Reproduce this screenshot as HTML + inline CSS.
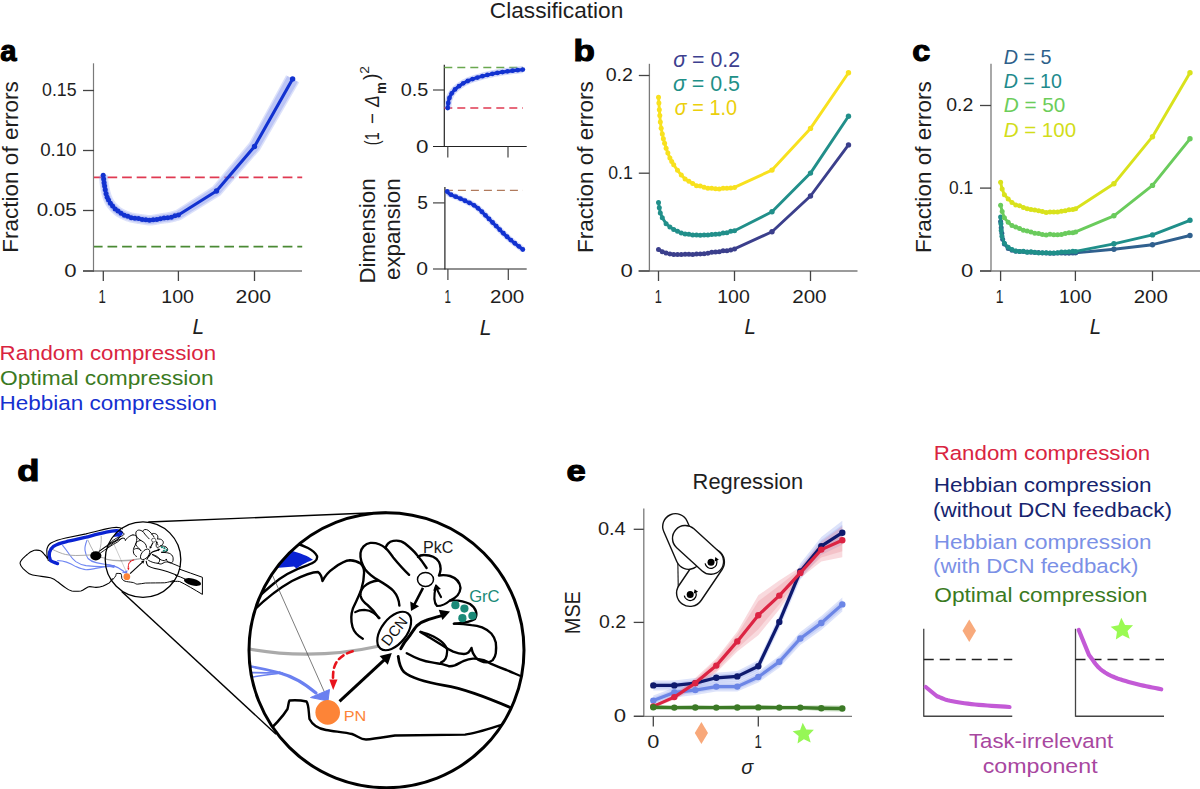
<!DOCTYPE html>
<html><head><meta charset="utf-8"><style>
html,body{margin:0;padding:0;background:#fff;overflow:hidden;width:1200px;height:789px;}
svg{display:block;font-family:"Liberation Sans",sans-serif;}
</style></head><body>
<svg width="1200" height="789" viewBox="0 0 1200 789">
<rect width="1200" height="789" fill="#fff"/>
<text x="489.85" y="18.1" font-size="21.5" fill="#1e1e1e" textLength="133.42" lengthAdjust="spacingAndGlyphs">Classification</text>
<text x="0.24" y="60.7" font-size="29" fill="#000" font-weight="bold" textLength="16.27" lengthAdjust="spacingAndGlyphs" stroke="#000" stroke-width="1.1">a</text>
<text x="573.4" y="60.9" font-size="29" fill="#000" font-weight="bold" textLength="21.33" lengthAdjust="spacingAndGlyphs" stroke="#000" stroke-width="1.1">b</text>
<text x="912.23" y="60.8" font-size="29" fill="#000" font-weight="bold" textLength="18.01" lengthAdjust="spacingAndGlyphs" stroke="#000" stroke-width="1.1">c</text>
<text x="17.21" y="481.3" font-size="29" fill="#000" font-weight="bold" textLength="22.18" lengthAdjust="spacingAndGlyphs" stroke="#000" stroke-width="1.1">d</text>
<text x="566.45" y="481.4" font-size="29" fill="#000" font-weight="bold" textLength="19.23" lengthAdjust="spacingAndGlyphs" stroke="#000" stroke-width="1.1">e</text>
<line x1="93.5" y1="63.3" x2="93.5" y2="271.5" stroke="#7a7a7a" stroke-width="1.2" stroke-linecap="butt"/>
<line x1="83" y1="271" x2="302" y2="271" stroke="#7a7a7a" stroke-width="1.3" stroke-linecap="butt"/>
<line x1="83" y1="90.5" x2="94" y2="90.5" stroke="#444444" stroke-width="1.3" stroke-linecap="butt"/>
<text x="42.06" y="96.4" font-size="19" fill="#1e1e1e" textLength="34.49" lengthAdjust="spacingAndGlyphs">0.15</text>
<line x1="83" y1="150.5" x2="94" y2="150.5" stroke="#444444" stroke-width="1.3" stroke-linecap="butt"/>
<text x="40.17" y="156.4" font-size="19" fill="#1e1e1e" textLength="36.36" lengthAdjust="spacingAndGlyphs">0.10</text>
<line x1="83" y1="210.5" x2="94" y2="210.5" stroke="#444444" stroke-width="1.3" stroke-linecap="butt"/>
<text x="36.7" y="216.4" font-size="19" fill="#1e1e1e" textLength="39.96" lengthAdjust="spacingAndGlyphs">0.05</text>
<line x1="83" y1="271" x2="94" y2="271" stroke="#444444" stroke-width="1.3" stroke-linecap="butt"/>
<text x="64.33" y="276.9" font-size="19" fill="#1e1e1e" textLength="12.33" lengthAdjust="spacingAndGlyphs">0</text>
<line x1="103.3" y1="271" x2="103.3" y2="281" stroke="#444444" stroke-width="1.3" stroke-linecap="butt"/>
<text x="98.49" y="303" font-size="19" fill="#1e1e1e" textLength="7.35" lengthAdjust="spacingAndGlyphs">1</text>
<line x1="178.4" y1="271" x2="178.4" y2="281" stroke="#444444" stroke-width="1.3" stroke-linecap="butt"/>
<text x="161.31" y="303" font-size="19" fill="#1e1e1e" textLength="32.66" lengthAdjust="spacingAndGlyphs">100</text>
<line x1="254.5" y1="271" x2="254.5" y2="281" stroke="#444444" stroke-width="1.3" stroke-linecap="butt"/>
<text x="235.63" y="303" font-size="19" fill="#1e1e1e" textLength="35.4" lengthAdjust="spacingAndGlyphs">200</text>
<text x="192.56" y="334" font-size="21.3" fill="#1e1e1e" font-style="italic" textLength="11.6" lengthAdjust="spacingAndGlyphs">L</text>
<text x="-1.85" y="0" transform="translate(18 251) rotate(-90)" font-size="22.5" fill="#1e1e1e" textLength="171.66" lengthAdjust="spacingAndGlyphs">Fraction of errors</text>
<line x1="94" y1="177.3" x2="302.2" y2="177.3" stroke="#e03a52" stroke-width="1.7" stroke-linecap="butt" stroke-dasharray="9.7,4.9" stroke-dashoffset="1.1"/>
<line x1="94" y1="246.7" x2="302.2" y2="246.7" stroke="#4a8a34" stroke-width="1.7" stroke-linecap="butt" stroke-dasharray="9.7,4.9" stroke-dashoffset="1.1"/>
<polygon points="98.73,175.74 98.81,176.42 98.88,177.09 98.96,177.78 99.03,178.46 99.1,179.15 99.18,179.85 99.25,180.54 99.33,181.23 99.41,181.92 99.49,182.61 99.58,183.29 99.66,183.95 99.75,184.59 99.83,185.22 99.92,185.84 100.01,186.46 100.09,187.07 100.19,187.69 100.28,188.31 100.38,188.92 100.49,189.54 100.6,190.15 100.72,190.78 100.84,191.39 100.97,191.99 101.1,192.59 101.23,193.19 101.37,193.8 101.51,194.4 101.66,195.01 101.82,195.61 101.99,196.22 102.16,196.82 102.34,197.42 102.53,198.02 102.73,198.6 102.92,199.15 103.11,199.68 103.31,200.21 103.51,200.75 103.73,201.29 103.96,201.83 104.21,202.38 104.47,202.93 104.75,203.49 105.05,204.05 105.37,204.62 105.71,205.18 106.06,205.73 106.42,206.28 106.8,206.83 107.19,207.38 107.6,207.94 108.02,208.49 108.45,209.04 108.91,209.58 109.37,210.12 109.85,210.66 110.35,211.19 110.84,211.69 111.31,212.16 111.77,212.62 112.25,213.08 112.75,213.55 113.29,214.03 113.85,214.51 114.44,215 115.07,215.48 115.73,215.96 116.43,216.43 117.18,216.9 117.95,217.36 118.72,217.79 119.52,218.22 120.35,218.65 121.22,219.08 122.12,219.51 123.05,219.93 124.01,220.35 125,220.75 126.02,221.14 127.06,221.51 128.13,221.86 129.23,222.2 130.39,222.51 131.6,222.8 132.83,223.06 134.08,223.31 135.34,223.53 136.59,223.74 137.81,223.94 139,224.12 140.14,224.29 141.21,224.44 142.19,224.59 143.07,224.72 143.84,224.83 144.54,224.95 145.19,225.05 145.81,225.15 146.42,225.24 147.04,225.32 147.68,225.39 148.35,225.44 149.04,225.47 149.76,225.48 150.51,225.47 151.33,225.44 152.23,225.38 153.16,225.28 154.08,225.16 155.01,225.03 155.92,224.88 156.83,224.72 157.73,224.57 158.61,224.41 159.47,224.25 160.29,224.11 161.07,223.98 161.81,223.87 162.54,223.77 163.27,223.68 164.01,223.59 164.76,223.5 165.52,223.41 166.28,223.33 167.05,223.23 167.84,223.13 168.64,223.02 169.44,222.9 170.27,222.76 171.1,222.6 171.92,222.43 172.73,222.25 173.51,222.06 174.28,221.86 175.03,221.66 175.76,221.45 176.48,221.25 177.18,221.05 177.87,220.85 178.54,220.66 179.2,220.48 181.31,219.67 220.51,195.46 259.88,150.15 299.13,82.58 286.07,75.22 249.12,142.85 212.49,186.54 175.49,210.33 176.2,209.91 175.48,210.13 174.76,210.34 174.07,210.56 173.38,210.77 172.71,210.97 172.06,211.17 171.41,211.36 170.77,211.53 170.14,211.7 169.52,211.85 168.9,212 168.28,212.12 167.65,212.24 167,212.36 166.32,212.46 165.63,212.56 164.92,212.66 164.19,212.76 163.43,212.86 162.65,212.97 161.86,213.08 161.04,213.2 160.19,213.33 159.31,213.48 158.43,213.64 157.54,213.81 156.66,213.98 155.79,214.15 154.94,214.31 154.11,214.47 153.32,214.61 152.57,214.73 151.87,214.83 151.25,214.91 150.67,214.96 150.13,214.99 149.65,215.01 149.24,215.02 148.88,215.01 148.53,214.99 148.16,214.97 147.75,214.92 147.27,214.87 146.72,214.79 146.09,214.7 145.36,214.6 144.53,214.48 143.61,214.36 142.62,214.23 141.56,214.1 140.47,213.95 139.34,213.79 138.19,213.62 137.04,213.44 135.92,213.25 134.83,213.05 133.79,212.84 132.84,212.63 131.97,212.4 131.13,212.16 130.3,211.9 129.47,211.62 128.65,211.32 127.85,211.01 127.06,210.68 126.3,210.35 125.55,210.01 124.83,209.66 124.14,209.32 123.47,208.97 122.85,208.64 122.31,208.34 121.82,208.04 121.37,207.75 120.94,207.45 120.53,207.16 120.14,206.85 119.76,206.53 119.37,206.2 118.98,205.86 118.58,205.49 118.17,205.1 117.76,204.71 117.38,204.33 117.02,203.97 116.66,203.59 116.32,203.2 115.98,202.81 115.64,202.41 115.32,202.01 115.01,201.61 114.71,201.2 114.42,200.8 114.14,200.4 113.89,200.02 113.65,199.66 113.44,199.3 113.24,198.96 113.06,198.61 112.88,198.26 112.7,197.9 112.53,197.52 112.36,197.14 112.19,196.73 112.02,196.3 111.85,195.86 111.67,195.4 111.51,194.96 111.35,194.51 111.2,194.05 111.05,193.57 110.91,193.08 110.76,192.58 110.62,192.07 110.48,191.55 110.35,191.02 110.22,190.49 110.09,189.95 109.96,189.41 109.84,188.88 109.73,188.36 109.62,187.83 109.52,187.29 109.41,186.75 109.31,186.2 109.22,185.63 109.12,185.06 109.03,184.48 108.93,183.88 108.83,183.27 108.74,182.65 108.64,182.03 108.55,181.41 108.46,180.77 108.37,180.12 108.28,179.45 108.2,178.78 108.11,178.1 108.02,177.41 107.94,176.72 107.85,176.03 107.76,175.34 107.67,174.66" fill="#8c9ced" fill-opacity="0.3" stroke="none"/>
<polygon points="100.22,175.56 100.3,176.24 100.37,176.92 100.45,177.6 100.52,178.29 100.59,178.98 100.67,179.67 100.74,180.36 100.82,181.05 100.9,181.73 100.98,182.41 101.06,183.08 101.15,183.74 101.23,184.37 101.32,185 101.4,185.62 101.49,186.23 101.58,186.84 101.67,187.45 101.76,188.05 101.86,188.66 101.96,189.26 102.07,189.87 102.18,190.47 102.31,191.07 102.43,191.67 102.56,192.26 102.69,192.85 102.82,193.44 102.97,194.03 103.11,194.62 103.27,195.21 103.43,195.8 103.59,196.38 103.77,196.96 103.95,197.53 104.14,198.09 104.33,198.63 104.51,199.15 104.7,199.66 104.9,200.18 105.11,200.7 105.33,201.21 105.56,201.73 105.81,202.26 106.08,202.78 106.36,203.31 106.66,203.85 106.98,204.38 107.31,204.91 107.66,205.43 108.02,205.96 108.4,206.49 108.79,207.02 109.19,207.55 109.61,208.08 110.04,208.6 110.49,209.12 110.95,209.64 111.42,210.14 111.9,210.63 112.35,211.08 112.81,211.53 113.27,211.98 113.76,212.44 114.27,212.89 114.8,213.35 115.36,213.81 115.95,214.27 116.58,214.72 117.24,215.17 117.95,215.62 118.68,216.05 119.43,216.47 120.21,216.89 121.02,217.31 121.87,217.73 122.74,218.14 123.65,218.56 124.58,218.96 125.54,219.35 126.53,219.73 127.54,220.09 128.57,220.43 129.64,220.75 130.75,221.05 131.92,221.33 133.13,221.59 134.35,221.83 135.59,222.05 136.82,222.26 138.03,222.46 139.21,222.64 140.35,222.8 141.41,222.96 142.4,223.1 143.28,223.23 144.06,223.35 144.77,223.46 145.41,223.57 146.02,223.66 146.61,223.75 147.2,223.83 147.81,223.9 148.43,223.94 149.07,223.97 149.75,223.98 150.46,223.97 151.24,223.94 152.09,223.88 152.98,223.79 153.87,223.68 154.77,223.55 155.67,223.4 156.57,223.25 157.46,223.09 158.34,222.93 159.2,222.78 160.03,222.64 160.82,222.5 161.58,222.39 162.33,222.29 163.07,222.19 163.82,222.1 164.58,222.01 165.33,221.93 166.09,221.84 166.86,221.75 167.63,221.65 168.41,221.54 169.2,221.42 169.99,221.29 170.79,221.14 171.59,220.97 172.37,220.79 173.13,220.61 173.88,220.41 174.62,220.21 175.34,220.01 176.05,219.81 176.75,219.61 177.44,219.41 178.12,219.22 178.79,219.04 180.52,218.39 219.51,194.34 258.64,149.31 297.83,81.85 287.37,75.95 250.36,143.69 213.49,187.66 176.28,211.61 176.61,211.35 175.89,211.57 175.19,211.78 174.49,212 173.81,212.21 173.13,212.41 172.46,212.61 171.8,212.8 171.15,212.98 170.5,213.16 169.85,213.32 169.21,213.46 168.56,213.6 167.9,213.72 167.22,213.84 166.53,213.95 165.83,214.05 165.11,214.15 164.37,214.25 163.62,214.35 162.84,214.45 162.05,214.56 161.25,214.68 160.42,214.81 159.56,214.96 158.69,215.11 157.81,215.28 156.94,215.45 156.07,215.62 155.21,215.79 154.37,215.95 153.56,216.09 152.79,216.22 152.06,216.32 151.39,216.4 150.76,216.46 150.19,216.49 149.67,216.51 149.22,216.52 148.8,216.51 148.41,216.49 148,216.46 147.56,216.41 147.06,216.35 146.5,216.27 145.86,216.18 145.14,216.08 144.32,215.97 143.4,215.85 142.41,215.72 141.36,215.58 140.25,215.43 139.11,215.27 137.95,215.1 136.79,214.92 135.65,214.73 134.53,214.52 133.47,214.31 132.48,214.08 131.56,213.85 130.69,213.6 129.82,213.32 128.96,213.03 128.11,212.72 127.28,212.39 126.47,212.06 125.67,211.71 124.9,211.36 124.16,211.01 123.45,210.65 122.76,210.29 122.12,209.95 121.54,209.62 121.01,209.3 120.52,208.99 120.05,208.67 119.61,208.34 119.19,208.01 118.78,207.67 118.37,207.32 117.96,206.95 117.55,206.57 117.13,206.17 116.7,205.77 116.3,205.38 115.92,204.99 115.55,204.59 115.18,204.18 114.82,203.77 114.47,203.35 114.13,202.92 113.8,202.5 113.49,202.07 113.18,201.65 112.89,201.23 112.62,200.82 112.37,200.43 112.14,200.04 111.92,199.66 111.72,199.28 111.52,198.9 111.33,198.51 111.15,198.11 110.97,197.7 110.79,197.28 110.62,196.84 110.44,196.38 110.26,195.91 110.09,195.44 109.93,194.97 109.77,194.49 109.61,193.99 109.46,193.48 109.31,192.97 109.17,192.44 109.03,191.91 108.89,191.37 108.76,190.83 108.62,190.28 108.49,189.73 108.37,189.19 108.26,188.65 108.15,188.11 108.04,187.56 107.93,187 107.83,186.44 107.74,185.87 107.64,185.29 107.54,184.7 107.45,184.1 107.35,183.48 107.25,182.86 107.16,182.24 107.06,181.61 106.97,180.96 106.88,180.3 106.8,179.63 106.71,178.95 106.62,178.27 106.53,177.58 106.45,176.9 106.36,176.21 106.27,175.52 106.18,174.84" fill="#8c9ced" fill-opacity="0.4" stroke="none"/>
<polyline points="103.2,175.2 103.63,178.9 104.09,182.67 104.62,185.98 105.27,189.78 106.1,193.67 107.16,197.2 108.53,200 110.38,203.24 112.62,206.04 115.17,209 117.97,211.06 121.09,213.34 124.39,215.13 127.8,216.22 131.31,217.63 134.91,218.33 138.54,218.48 142.19,219.42 145.83,219.71 149.49,220.18 153.16,219.8 156.79,219.51 160.41,218.65 164.05,217.91 167.7,217.74 171.32,217.23 174.87,215.87 178.4,215 216.5,191 254.5,146.5 292.6,78.9" fill="none" stroke="#1232d0" stroke-width="3.1" stroke-linejoin="round" stroke-linecap="round"/>
<circle cx="103.2" cy="175.2" r="2.5" fill="#1232d0"/>
<circle cx="103.63" cy="178.9" r="2.5" fill="#1232d0"/>
<circle cx="104.09" cy="182.67" r="2.5" fill="#1232d0"/>
<circle cx="104.62" cy="185.98" r="2.5" fill="#1232d0"/>
<circle cx="105.27" cy="189.78" r="2.5" fill="#1232d0"/>
<circle cx="106.1" cy="193.67" r="2.5" fill="#1232d0"/>
<circle cx="107.16" cy="197.2" r="2.5" fill="#1232d0"/>
<circle cx="108.53" cy="200" r="2.5" fill="#1232d0"/>
<circle cx="110.38" cy="203.24" r="2.5" fill="#1232d0"/>
<circle cx="112.62" cy="206.04" r="2.5" fill="#1232d0"/>
<circle cx="115.17" cy="209" r="2.5" fill="#1232d0"/>
<circle cx="117.97" cy="211.06" r="2.5" fill="#1232d0"/>
<circle cx="121.09" cy="213.34" r="2.5" fill="#1232d0"/>
<circle cx="124.39" cy="215.13" r="2.5" fill="#1232d0"/>
<circle cx="127.8" cy="216.22" r="2.5" fill="#1232d0"/>
<circle cx="131.31" cy="217.63" r="2.5" fill="#1232d0"/>
<circle cx="134.91" cy="218.33" r="2.5" fill="#1232d0"/>
<circle cx="138.54" cy="218.48" r="2.5" fill="#1232d0"/>
<circle cx="142.19" cy="219.42" r="2.5" fill="#1232d0"/>
<circle cx="145.83" cy="219.71" r="2.5" fill="#1232d0"/>
<circle cx="149.49" cy="220.18" r="2.5" fill="#1232d0"/>
<circle cx="153.16" cy="219.8" r="2.5" fill="#1232d0"/>
<circle cx="156.79" cy="219.51" r="2.5" fill="#1232d0"/>
<circle cx="160.41" cy="218.65" r="2.5" fill="#1232d0"/>
<circle cx="164.05" cy="217.91" r="2.5" fill="#1232d0"/>
<circle cx="167.7" cy="217.74" r="2.5" fill="#1232d0"/>
<circle cx="171.32" cy="217.23" r="2.5" fill="#1232d0"/>
<circle cx="174.87" cy="215.87" r="2.5" fill="#1232d0"/>
<circle cx="178.4" cy="215" r="2.5" fill="#1232d0"/>
<circle cx="216.5" cy="191" r="2.7" fill="#1232d0"/>
<circle cx="254.5" cy="146.5" r="2.7" fill="#1232d0"/>
<circle cx="292.6" cy="78.9" r="2.7" fill="#1232d0"/>
<line x1="444.3" y1="64.8" x2="444.3" y2="147" stroke="#222" stroke-width="1.2" stroke-linecap="butt"/>
<line x1="433" y1="146.5" x2="526.7" y2="146.5" stroke="#222" stroke-width="1.2" stroke-linecap="butt"/>
<line x1="433" y1="90" x2="444.3" y2="90" stroke="#444444" stroke-width="1.2" stroke-linecap="butt"/>
<line x1="447.8" y1="146.5" x2="447.8" y2="157.5" stroke="#444444" stroke-width="1.2" stroke-linecap="butt"/>
<line x1="508" y1="146.5" x2="508" y2="157.5" stroke="#444444" stroke-width="1.2" stroke-linecap="butt"/>
<text x="400.82" y="95.6" font-size="18" fill="#1e1e1e" textLength="27.61" lengthAdjust="spacingAndGlyphs">0.5</text>
<text x="416.03" y="152.6" font-size="18" fill="#1e1e1e" textLength="12.45" lengthAdjust="spacingAndGlyphs">0</text>
<line x1="444.3" y1="67.5" x2="523" y2="67.5" stroke="#6aa84f" stroke-width="1.3" stroke-linecap="butt" stroke-dasharray="8,5"/>
<line x1="444.3" y1="108" x2="523" y2="108" stroke="#e03a52" stroke-width="1.3" stroke-linecap="butt" stroke-dasharray="8,5"/>
<polygon points="451.18,108.41 451.28,107.51 451.38,106.58 451.48,105.67 451.57,104.79 451.66,103.94 451.77,103.15 451.88,102.42 452.02,101.74 452.18,101.07 452.34,100.43 452.52,99.82 452.7,99.25 452.9,98.7 453.11,98.17 453.35,97.64 453.61,97.1 453.91,96.55 454.22,96.01 454.56,95.47 454.92,94.93 455.31,94.4 455.71,93.88 456.14,93.36 456.58,92.86 457.04,92.38 457.52,91.91 458.02,91.44 458.55,90.98 459.12,90.51 459.72,90.03 460.36,89.54 461.06,89.03 461.81,88.49 462.55,87.95 463.3,87.42 464.07,86.91 464.86,86.41 465.69,85.91 466.56,85.43 467.52,84.95 468.56,84.47 469.65,83.99 470.79,83.52 471.98,83.05 473.25,82.58 474.6,82.11 476.05,81.63 477.61,81.15 479.3,80.66 481.16,80.14 483.12,79.62 485.17,79.1 487.24,78.59 489.32,78.11 491.36,77.65 493.31,77.23 495.2,76.85 497.07,76.49 498.92,76.17 500.76,75.86 502.61,75.57 504.45,75.3 506.31,75.03 508.17,74.77 510.03,74.52 511.89,74.29 513.75,74.08 515.62,73.88 517.5,73.68 519.39,73.49 521.29,73.29 523.18,73.08 522.42,66.12 520.54,66.33 518.66,66.53 516.77,66.72 514.88,66.92 512.98,67.13 511.06,67.34 509.14,67.58 507.23,67.83 505.33,68.1 503.44,68.37 501.55,68.65 499.65,68.95 497.74,69.27 495.81,69.61 493.86,69.98 491.89,70.37 489.85,70.81 487.75,71.28 485.61,71.79 483.47,72.31 481.36,72.85 479.33,73.39 477.39,73.92 475.59,74.45 473.93,74.96 472.37,75.47 470.89,75.99 469.49,76.5 468.16,77.03 466.89,77.55 465.67,78.09 464.48,78.65 463.31,79.23 462.21,79.83 461.19,80.44 460.23,81.05 459.34,81.65 458.5,82.24 457.7,82.82 456.94,83.37 456.17,83.93 455.43,84.5 454.71,85.07 454.01,85.65 453.34,86.24 452.68,86.85 452.04,87.48 451.42,88.14 450.82,88.81 450.25,89.5 449.71,90.2 449.19,90.92 448.7,91.65 448.23,92.39 447.8,93.14 447.39,93.9 447.01,94.67 446.67,95.44 446.35,96.22 446.07,97 445.82,97.79 445.59,98.59 445.38,99.4 445.18,100.26 444.99,101.18 444.84,102.14 444.72,103.09 444.61,104.03 444.51,104.95 444.42,105.85 444.33,106.72 444.22,107.59" fill="#8c9ced" fill-opacity="0.4" stroke="none"/>
<polyline points="447.7,108 447.81,107.11 447.9,106.21 447.99,105.31 448.09,104.41 448.19,103.52 448.3,102.64 448.44,101.8 448.6,101 448.78,100.24 448.97,99.51 449.17,98.81 449.39,98.12 449.63,97.46 449.89,96.8 450.18,96.15 450.5,95.5 450.85,94.85 451.23,94.2 451.63,93.56 452.06,92.92 452.51,92.3 452.98,91.69 453.48,91.09 454,90.5 454.54,89.93 455.1,89.38 455.68,88.84 456.28,88.31 456.91,87.79 457.57,87.27 458.27,86.74 459,86.2 459.75,85.65 460.52,85.1 461.32,84.54 462.15,83.98 463.02,83.43 463.95,82.87 464.94,82.33 466,81.8 467.12,81.28 468.27,80.77 469.47,80.27 470.74,79.77 472.07,79.28 473.49,78.79 474.99,78.3 476.6,77.8 478.35,77.29 480.24,76.76 482.24,76.23 484.32,75.71 486.43,75.19 488.54,74.69 490.61,74.23 492.6,73.8 494.53,73.41 496.44,73.05 498.33,72.72 500.21,72.41 502.08,72.11 503.95,71.83 505.82,71.56 507.7,71.3 509.59,71.05 511.47,70.82 513.36,70.6 515.25,70.4 517.14,70.2 519.02,70.01 520.91,69.81 522.8,69.6" fill="none" stroke="#1232d0" stroke-width="3.2" stroke-linejoin="round" stroke-linecap="round"/>
<circle cx="447.7" cy="108" r="2.4" fill="#1232d0"/>
<circle cx="448.27" cy="102.91" r="2.4" fill="#1232d0"/>
<circle cx="449.46" cy="97.93" r="2.4" fill="#1232d0"/>
<circle cx="451.76" cy="93.37" r="2.4" fill="#1232d0"/>
<circle cx="455.04" cy="89.44" r="2.4" fill="#1232d0"/>
<circle cx="459" cy="86.2" r="2.4" fill="#1232d0"/>
<circle cx="463.23" cy="83.3" r="2.4" fill="#1232d0"/>
<circle cx="467.79" cy="80.98" r="2.4" fill="#1232d0"/>
<circle cx="472.56" cy="79.11" r="2.4" fill="#1232d0"/>
<circle cx="477.44" cy="77.55" r="2.4" fill="#1232d0"/>
<circle cx="482.38" cy="76.2" r="2.4" fill="#1232d0"/>
<circle cx="487.36" cy="74.97" r="2.4" fill="#1232d0"/>
<circle cx="492.36" cy="73.85" r="2.4" fill="#1232d0"/>
<circle cx="497.39" cy="72.88" r="2.4" fill="#1232d0"/>
<circle cx="502.45" cy="72.06" r="2.4" fill="#1232d0"/>
<circle cx="507.52" cy="71.32" r="2.4" fill="#1232d0"/>
<circle cx="512.61" cy="70.69" r="2.4" fill="#1232d0"/>
<circle cx="517.7" cy="70.14" r="2.4" fill="#1232d0"/>
<circle cx="522.8" cy="69.6" r="2.4" fill="#1232d0"/>
<text x="-0.9" y="0" transform="translate(378.5 144.3) rotate(-90)" font-size="20" fill="#1e1e1e" textLength="12.91" lengthAdjust="spacingAndGlyphs">(1</text>
<text x="-0.92" y="0" transform="translate(378.5 123.2) rotate(-90)" font-size="20" fill="#1e1e1e" textLength="10.94" lengthAdjust="spacingAndGlyphs">−</text>
<text x="0.34" y="0" transform="translate(378.5 107.3) rotate(-90)" font-size="20" fill="#1e1e1e" font-style="italic" textLength="11.67" lengthAdjust="spacingAndGlyphs">Δ</text>
<text x="-0.88" y="0" transform="translate(385.8 93) rotate(-90)" font-size="14" fill="#1e1e1e" font-weight="bold" textLength="11.91" lengthAdjust="spacingAndGlyphs">m</text>
<text x="-0.11" y="0" transform="translate(378.2 80) rotate(-90)" font-size="20" fill="#1e1e1e" textLength="6.53" lengthAdjust="spacingAndGlyphs">)</text>
<text x="-0.7" y="0" transform="translate(369.2 73.1) rotate(-90)" font-size="13.5" fill="#1e1e1e" textLength="7.69" lengthAdjust="spacingAndGlyphs">2</text>
<line x1="444.9" y1="186.9" x2="444.9" y2="269.5" stroke="#222" stroke-width="1.2" stroke-linecap="butt"/>
<line x1="433" y1="269" x2="526.7" y2="269" stroke="#222" stroke-width="1.2" stroke-linecap="butt"/>
<line x1="433" y1="202.9" x2="444.9" y2="202.9" stroke="#444444" stroke-width="1.2" stroke-linecap="butt"/>
<line x1="447.9" y1="269" x2="447.9" y2="280" stroke="#444444" stroke-width="1.2" stroke-linecap="butt"/>
<line x1="508.3" y1="269" x2="508.3" y2="280" stroke="#444444" stroke-width="1.2" stroke-linecap="butt"/>
<text x="417.33" y="209" font-size="18" fill="#1e1e1e" textLength="10.67" lengthAdjust="spacingAndGlyphs">5</text>
<text x="416.27" y="274.7" font-size="18" fill="#1e1e1e" textLength="11.75" lengthAdjust="spacingAndGlyphs">0</text>
<text x="444.62" y="303" font-size="18" fill="#1e1e1e" textLength="6.45" lengthAdjust="spacingAndGlyphs">1</text>
<text x="490.07" y="303" font-size="18" fill="#1e1e1e" textLength="34.23" lengthAdjust="spacingAndGlyphs">200</text>
<text x="479.85" y="334.5" font-size="21.3" fill="#1e1e1e" font-style="italic" textLength="11.72" lengthAdjust="spacingAndGlyphs">L</text>
<line x1="444.9" y1="190.3" x2="523" y2="190.3" stroke="#b07a5c" stroke-width="1.3" stroke-linecap="butt" stroke-dasharray="8,5"/>
<polygon points="444.86,193.38 445.03,193.59 445.17,193.78 445.35,194.03 445.58,194.36 445.88,194.75 446.26,195.17 446.71,195.61 447.23,196.02 447.75,196.37 448.26,196.68 448.77,196.95 449.28,197.2 449.8,197.44 450.32,197.67 450.84,197.9 451.4,198.15 452.01,198.41 452.65,198.68 453.3,198.93 453.96,199.19 454.64,199.46 455.33,199.74 456.06,200.03 456.82,200.36 457.63,200.71 458.46,201.06 459.3,201.42 460.17,201.79 461.07,202.19 462.02,202.63 463.04,203.12 464.17,203.69 465.43,204.3 466.74,204.9 468.06,205.5 469.39,206.13 470.74,206.83 472.12,207.62 473.55,208.55 475.04,209.66 476.65,211 478.39,212.57 480.23,214.33 482.14,216.23 484.1,218.2 486.08,220.21 488.05,222.21 489.99,224.13 491.88,226 493.76,227.9 495.65,229.82 497.55,231.75 499.46,233.67 501.39,235.57 503.33,237.43 505.3,239.23 507.27,240.96 509.25,242.62 511.22,244.21 513.18,245.77 515.13,247.29 517.07,248.8 519,250.31 520.93,251.85 524.67,247.15 522.72,245.6 520.76,244.07 518.82,242.56 516.88,241.05 514.97,239.53 513.06,237.99 511.17,236.4 509.3,234.77 507.44,233.05 505.57,231.27 503.69,229.42 501.81,227.53 499.93,225.61 498.03,223.68 496.12,221.75 494.21,219.87 492.3,217.97 490.35,216 488.37,213.99 486.38,211.99 484.41,210.03 482.48,208.18 480.59,206.47 478.76,204.94 476.98,203.63 475.26,202.51 473.61,201.56 472.05,200.76 470.59,200.06 469.23,199.44 467.99,198.88 466.83,198.31 465.69,197.74 464.58,197.2 463.55,196.73 462.58,196.3 461.67,195.9 460.81,195.54 459.99,195.19 459.18,194.84 458.37,194.5 457.59,194.18 456.85,193.88 456.15,193.61 455.5,193.35 454.9,193.11 454.34,192.88 453.8,192.65 453.26,192.41 452.75,192.19 452.28,191.98 451.87,191.79 451.51,191.61 451.2,191.45 450.95,191.3 450.77,191.18 450.66,191.09 450.59,191.02 450.51,190.92 450.39,190.78 450.25,190.57 450.05,190.29 449.79,189.94 449.54,189.62" fill="#8c9ced" fill-opacity="0.4" stroke="none"/>
<polyline points="447.2,191.5 447.41,191.76 447.61,192.03 447.8,192.3 447.99,192.57 448.19,192.83 448.42,193.1 448.69,193.35 449,193.6 449.35,193.84 449.73,194.06 450.14,194.28 450.58,194.49 451.04,194.71 451.53,194.93 452.05,195.16 452.6,195.4 453.17,195.65 453.77,195.89 454.4,196.14 455.06,196.4 455.74,196.67 456.46,196.96 457.21,197.26 458,197.6 458.81,197.95 459.64,198.3 460.49,198.66 461.38,199.04 462.31,199.46 463.3,199.92 464.36,200.43 465.5,201 466.71,201.59 467.99,202.17 469.32,202.78 470.72,203.44 472.18,204.19 473.69,205.07 475.27,206.09 476.9,207.3 478.62,208.73 480.43,210.38 482.32,212.18 484.26,214.11 486.23,216.1 488.21,218.11 490.17,220.09 492.1,222 494,223.88 495.89,225.79 497.79,227.71 499.68,229.64 501.58,231.54 503.48,233.42 505.39,235.24 507.3,237 509.22,238.68 511.15,240.3 513.09,241.87 515.03,243.41 516.97,244.92 518.92,246.43 520.86,247.95 522.8,249.5" fill="none" stroke="#1232d0" stroke-width="3.2" stroke-linejoin="round" stroke-linecap="round"/>
<circle cx="447.2" cy="191.5" r="2.4" fill="#1232d0"/>
<circle cx="451.01" cy="194.7" r="2.4" fill="#1232d0"/>
<circle cx="455.69" cy="196.65" r="2.4" fill="#1232d0"/>
<circle cx="460.37" cy="198.61" r="2.4" fill="#1232d0"/>
<circle cx="464.97" cy="200.73" r="2.4" fill="#1232d0"/>
<circle cx="469.56" cy="202.89" r="2.4" fill="#1232d0"/>
<circle cx="474.03" cy="205.29" r="2.4" fill="#1232d0"/>
<circle cx="478.1" cy="208.3" r="2.4" fill="#1232d0"/>
<circle cx="481.84" cy="211.73" r="2.4" fill="#1232d0"/>
<circle cx="485.44" cy="215.3" r="2.4" fill="#1232d0"/>
<circle cx="489" cy="218.91" r="2.4" fill="#1232d0"/>
<circle cx="492.6" cy="222.49" r="2.4" fill="#1232d0"/>
<circle cx="496.18" cy="226.08" r="2.4" fill="#1232d0"/>
<circle cx="499.74" cy="229.69" r="2.4" fill="#1232d0"/>
<circle cx="503.33" cy="233.27" r="2.4" fill="#1232d0"/>
<circle cx="507.03" cy="236.75" r="2.4" fill="#1232d0"/>
<circle cx="510.87" cy="240.06" r="2.4" fill="#1232d0"/>
<circle cx="514.82" cy="243.24" r="2.4" fill="#1232d0"/>
<circle cx="518.82" cy="246.36" r="2.4" fill="#1232d0"/>
<circle cx="522.8" cy="249.5" r="2.4" fill="#1232d0"/>
<text x="-1.82" y="0" transform="translate(375 281.7) rotate(-90)" font-size="22.5" fill="#1e1e1e" textLength="105.07" lengthAdjust="spacingAndGlyphs">Dimension</text>
<text x="-0.95" y="0" transform="translate(400.2 279) rotate(-90)" font-size="22.5" fill="#1e1e1e" textLength="101.49" lengthAdjust="spacingAndGlyphs">expansion</text>
<text x="-0.43" y="360" font-size="20.5" fill="#d9243f" textLength="216.47" lengthAdjust="spacingAndGlyphs">Random compression</text>
<text x="0.12" y="384.6" font-size="20.5" fill="#3a7a22" textLength="213.55" lengthAdjust="spacingAndGlyphs">Optimal compression</text>
<text x="-0.44" y="410.2" font-size="20.5" fill="#1530d0" textLength="217.51" lengthAdjust="spacingAndGlyphs">Hebbian compression</text>
<line x1="649.4" y1="63.8" x2="649.4" y2="271.5" stroke="#7a7a7a" stroke-width="1.3" stroke-linecap="butt"/>
<line x1="638.5" y1="271" x2="857.5" y2="271" stroke="#7a7a7a" stroke-width="1.3" stroke-linecap="butt"/>
<line x1="638.8" y1="75.5" x2="649.4" y2="75.5" stroke="#444444" stroke-width="1.3" stroke-linecap="butt"/>
<text x="605.73" y="81.4" font-size="19" fill="#1e1e1e" textLength="27.25" lengthAdjust="spacingAndGlyphs">0.2</text>
<line x1="638.8" y1="173.2" x2="649.4" y2="173.2" stroke="#444444" stroke-width="1.3" stroke-linecap="butt"/>
<text x="608.31" y="179.1" font-size="19" fill="#1e1e1e" textLength="24.55" lengthAdjust="spacingAndGlyphs">0.1</text>
<line x1="638.8" y1="271" x2="649.4" y2="271" stroke="#444444" stroke-width="1.3" stroke-linecap="butt"/>
<text x="620.53" y="276.9" font-size="19" fill="#1e1e1e" textLength="12.33" lengthAdjust="spacingAndGlyphs">0</text>
<line x1="658.5" y1="271" x2="658.5" y2="281" stroke="#444444" stroke-width="1.3" stroke-linecap="butt"/>
<text x="654.73" y="303" font-size="19" fill="#1e1e1e" textLength="7.09" lengthAdjust="spacingAndGlyphs">1</text>
<line x1="734.5" y1="271" x2="734.5" y2="281" stroke="#444444" stroke-width="1.3" stroke-linecap="butt"/>
<text x="717.21" y="303" font-size="19" fill="#1e1e1e" textLength="32.55" lengthAdjust="spacingAndGlyphs">100</text>
<line x1="810.5" y1="271" x2="810.5" y2="281" stroke="#444444" stroke-width="1.3" stroke-linecap="butt"/>
<text x="792.16" y="303" font-size="19" fill="#1e1e1e" textLength="34.44" lengthAdjust="spacingAndGlyphs">200</text>
<text x="744.57" y="334" font-size="21.3" fill="#1e1e1e" font-style="italic" textLength="11.35" lengthAdjust="spacingAndGlyphs">L</text>
<text x="-1.85" y="0" transform="translate(593.1 251.2) rotate(-90)" font-size="22.5" fill="#1e1e1e" textLength="171.87" lengthAdjust="spacingAndGlyphs">Fraction of errors</text>
<polyline points="658.5,97.2 658.9,102.95 659.32,109.72 659.81,115.54 660.34,121.92 661.17,128.23 662.3,133.88 663.36,138.74 664.6,143.22 666.1,148.18 667.87,153.1 669.9,157.88 671.72,161.61 673.7,164.77 677.5,170.32 681.3,175.1 685.1,179.11 688.9,181.18 692.7,183.6 696.5,185.71 700.3,186 704.1,187.33 707.9,188.31 711.7,188.14 715.5,188.69 719.3,189.05 723.1,188.15 726.9,188.16 730.7,187.97 734.5,187.4 772,170.1 810.5,128.4 848.5,72.8" fill="none" stroke="#f8e11e" stroke-width="2.9" stroke-linejoin="round" stroke-linecap="round"/>
<circle cx="658.5" cy="97.2" r="2.5" fill="#f8e11e"/>
<circle cx="658.9" cy="102.95" r="2.5" fill="#f8e11e"/>
<circle cx="659.32" cy="109.72" r="2.5" fill="#f8e11e"/>
<circle cx="659.81" cy="115.54" r="2.5" fill="#f8e11e"/>
<circle cx="660.34" cy="121.92" r="2.5" fill="#f8e11e"/>
<circle cx="661.17" cy="128.23" r="2.5" fill="#f8e11e"/>
<circle cx="662.3" cy="133.88" r="2.5" fill="#f8e11e"/>
<circle cx="663.36" cy="138.74" r="2.5" fill="#f8e11e"/>
<circle cx="664.6" cy="143.22" r="2.5" fill="#f8e11e"/>
<circle cx="666.1" cy="148.18" r="2.5" fill="#f8e11e"/>
<circle cx="667.87" cy="153.1" r="2.5" fill="#f8e11e"/>
<circle cx="669.9" cy="157.88" r="2.5" fill="#f8e11e"/>
<circle cx="671.72" cy="161.61" r="2.5" fill="#f8e11e"/>
<circle cx="673.7" cy="164.77" r="2.5" fill="#f8e11e"/>
<circle cx="677.5" cy="170.32" r="2.5" fill="#f8e11e"/>
<circle cx="681.3" cy="175.1" r="2.5" fill="#f8e11e"/>
<circle cx="685.1" cy="179.11" r="2.5" fill="#f8e11e"/>
<circle cx="688.9" cy="181.18" r="2.5" fill="#f8e11e"/>
<circle cx="692.7" cy="183.6" r="2.5" fill="#f8e11e"/>
<circle cx="696.5" cy="185.71" r="2.5" fill="#f8e11e"/>
<circle cx="700.3" cy="186" r="2.5" fill="#f8e11e"/>
<circle cx="704.1" cy="187.33" r="2.5" fill="#f8e11e"/>
<circle cx="707.9" cy="188.31" r="2.5" fill="#f8e11e"/>
<circle cx="711.7" cy="188.14" r="2.5" fill="#f8e11e"/>
<circle cx="715.5" cy="188.69" r="2.5" fill="#f8e11e"/>
<circle cx="719.3" cy="189.05" r="2.5" fill="#f8e11e"/>
<circle cx="723.1" cy="188.15" r="2.5" fill="#f8e11e"/>
<circle cx="726.9" cy="188.16" r="2.5" fill="#f8e11e"/>
<circle cx="730.7" cy="187.97" r="2.5" fill="#f8e11e"/>
<circle cx="734.5" cy="187.4" r="2.5" fill="#f8e11e"/>
<circle cx="772" cy="170.1" r="2.7" fill="#f8e11e"/>
<circle cx="810.5" cy="128.4" r="2.7" fill="#f8e11e"/>
<circle cx="848.5" cy="72.8" r="2.7" fill="#f8e11e"/>
<polyline points="658.5,202.4 659.31,207.86 660.3,212.95 662.3,217.68 666.1,223.63 669.9,226.97 673.7,229.4 677.5,231.15 681.3,233.08 685.1,234.03 688.9,234.27 692.7,235 696.5,235.01 700.3,235.2 704.1,234.98 707.9,235.01 711.7,234.44 715.5,234.14 719.3,233.93 723.1,233.08 726.9,232.76 730.7,231.25 734.5,230.7 772,211.8 810.5,173.1 848.5,116.3" fill="none" stroke="#218f8a" stroke-width="2.9" stroke-linejoin="round" stroke-linecap="round"/>
<circle cx="658.5" cy="202.4" r="2.5" fill="#218f8a"/>
<circle cx="659.31" cy="207.86" r="2.5" fill="#218f8a"/>
<circle cx="660.3" cy="212.95" r="2.5" fill="#218f8a"/>
<circle cx="662.3" cy="217.68" r="2.5" fill="#218f8a"/>
<circle cx="666.1" cy="223.63" r="2.5" fill="#218f8a"/>
<circle cx="669.9" cy="226.97" r="2.5" fill="#218f8a"/>
<circle cx="673.7" cy="229.4" r="2.5" fill="#218f8a"/>
<circle cx="677.5" cy="231.15" r="2.5" fill="#218f8a"/>
<circle cx="681.3" cy="233.08" r="2.5" fill="#218f8a"/>
<circle cx="685.1" cy="234.03" r="2.5" fill="#218f8a"/>
<circle cx="688.9" cy="234.27" r="2.5" fill="#218f8a"/>
<circle cx="692.7" cy="235" r="2.5" fill="#218f8a"/>
<circle cx="696.5" cy="235.01" r="2.5" fill="#218f8a"/>
<circle cx="700.3" cy="235.2" r="2.5" fill="#218f8a"/>
<circle cx="704.1" cy="234.98" r="2.5" fill="#218f8a"/>
<circle cx="707.9" cy="235.01" r="2.5" fill="#218f8a"/>
<circle cx="711.7" cy="234.44" r="2.5" fill="#218f8a"/>
<circle cx="715.5" cy="234.14" r="2.5" fill="#218f8a"/>
<circle cx="719.3" cy="233.93" r="2.5" fill="#218f8a"/>
<circle cx="723.1" cy="233.08" r="2.5" fill="#218f8a"/>
<circle cx="726.9" cy="232.76" r="2.5" fill="#218f8a"/>
<circle cx="730.7" cy="231.25" r="2.5" fill="#218f8a"/>
<circle cx="734.5" cy="230.7" r="2.5" fill="#218f8a"/>
<circle cx="772" cy="211.8" r="2.7" fill="#218f8a"/>
<circle cx="810.5" cy="173.1" r="2.7" fill="#218f8a"/>
<circle cx="848.5" cy="116.3" r="2.7" fill="#218f8a"/>
<polyline points="658.5,249.6 662.3,251.65 666.1,253.02 669.9,253.94 673.7,254.5 677.5,254.57 681.3,254.61 685.1,254.29 688.9,254.24 692.7,254.55 696.5,254.1 700.3,253.95 704.1,253.83 707.9,253.21 711.7,252.22 715.5,251.96 719.3,251.64 723.1,250.68 726.9,250.66 730.7,249.96 734.5,248.9 772,231.8 810.5,196 848.5,144.9" fill="none" stroke="#3b3f8c" stroke-width="2.9" stroke-linejoin="round" stroke-linecap="round"/>
<circle cx="658.5" cy="249.6" r="2.5" fill="#3b3f8c"/>
<circle cx="662.3" cy="251.65" r="2.5" fill="#3b3f8c"/>
<circle cx="666.1" cy="253.02" r="2.5" fill="#3b3f8c"/>
<circle cx="669.9" cy="253.94" r="2.5" fill="#3b3f8c"/>
<circle cx="673.7" cy="254.5" r="2.5" fill="#3b3f8c"/>
<circle cx="677.5" cy="254.57" r="2.5" fill="#3b3f8c"/>
<circle cx="681.3" cy="254.61" r="2.5" fill="#3b3f8c"/>
<circle cx="685.1" cy="254.29" r="2.5" fill="#3b3f8c"/>
<circle cx="688.9" cy="254.24" r="2.5" fill="#3b3f8c"/>
<circle cx="692.7" cy="254.55" r="2.5" fill="#3b3f8c"/>
<circle cx="696.5" cy="254.1" r="2.5" fill="#3b3f8c"/>
<circle cx="700.3" cy="253.95" r="2.5" fill="#3b3f8c"/>
<circle cx="704.1" cy="253.83" r="2.5" fill="#3b3f8c"/>
<circle cx="707.9" cy="253.21" r="2.5" fill="#3b3f8c"/>
<circle cx="711.7" cy="252.22" r="2.5" fill="#3b3f8c"/>
<circle cx="715.5" cy="251.96" r="2.5" fill="#3b3f8c"/>
<circle cx="719.3" cy="251.64" r="2.5" fill="#3b3f8c"/>
<circle cx="723.1" cy="250.68" r="2.5" fill="#3b3f8c"/>
<circle cx="726.9" cy="250.66" r="2.5" fill="#3b3f8c"/>
<circle cx="730.7" cy="249.96" r="2.5" fill="#3b3f8c"/>
<circle cx="734.5" cy="248.9" r="2.5" fill="#3b3f8c"/>
<circle cx="772" cy="231.8" r="2.7" fill="#3b3f8c"/>
<circle cx="810.5" cy="196" r="2.7" fill="#3b3f8c"/>
<circle cx="848.5" cy="144.9" r="2.7" fill="#3b3f8c"/>
<text x="673.29" y="66.6" fill="#3d3f8f" textLength="66.68" lengthAdjust="spacingAndGlyphs"><tspan font-size="21.5" font-style="italic">σ</tspan><tspan font-size="21.5"> = 0.2</tspan></text>
<text x="672.99" y="90.8" fill="#1f9088" textLength="67.01" lengthAdjust="spacingAndGlyphs"><tspan font-size="21.5" font-style="italic">σ</tspan><tspan font-size="21.5"> = 0.5</tspan></text>
<text x="674.84" y="115.1" fill="#ebcf0c" textLength="62.24" lengthAdjust="spacingAndGlyphs"><tspan font-size="21.5" font-style="italic">σ</tspan><tspan font-size="21.5"> = 1.0</tspan></text>
<line x1="991" y1="63.8" x2="991" y2="271.5" stroke="#7a7a7a" stroke-width="1.3" stroke-linecap="butt"/>
<line x1="980" y1="271" x2="1200" y2="271" stroke="#7a7a7a" stroke-width="1.3" stroke-linecap="butt"/>
<line x1="980" y1="105.5" x2="991" y2="105.5" stroke="#444444" stroke-width="1.3" stroke-linecap="butt"/>
<text x="946.24" y="111.4" font-size="19" fill="#1e1e1e" textLength="27.04" lengthAdjust="spacingAndGlyphs">0.2</text>
<line x1="980" y1="188.1" x2="991" y2="188.1" stroke="#444444" stroke-width="1.3" stroke-linecap="butt"/>
<text x="949.02" y="194" font-size="19" fill="#1e1e1e" textLength="24.13" lengthAdjust="spacingAndGlyphs">0.1</text>
<line x1="980" y1="271" x2="991" y2="271" stroke="#444444" stroke-width="1.3" stroke-linecap="butt"/>
<text x="960.94" y="276.9" font-size="19" fill="#1e1e1e" textLength="12.22" lengthAdjust="spacingAndGlyphs">0</text>
<line x1="1000.6" y1="271" x2="1000.6" y2="281" stroke="#444444" stroke-width="1.3" stroke-linecap="butt"/>
<text x="995.69" y="303" font-size="19" fill="#1e1e1e" textLength="7.74" lengthAdjust="spacingAndGlyphs">1</text>
<line x1="1075.4" y1="271" x2="1075.4" y2="281" stroke="#444444" stroke-width="1.3" stroke-linecap="butt"/>
<text x="1059.01" y="303" font-size="19" fill="#1e1e1e" textLength="32.55" lengthAdjust="spacingAndGlyphs">100</text>
<line x1="1152.5" y1="271" x2="1152.5" y2="281" stroke="#444444" stroke-width="1.3" stroke-linecap="butt"/>
<text x="1133.67" y="303" font-size="19" fill="#1e1e1e" textLength="34.13" lengthAdjust="spacingAndGlyphs">200</text>
<text x="1089.87" y="334" font-size="21.3" fill="#1e1e1e" font-style="italic" textLength="11.35" lengthAdjust="spacingAndGlyphs">L</text>
<text x="-1.85" y="0" transform="translate(931 251.2) rotate(-90)" font-size="22.5" fill="#1e1e1e" textLength="171.87" lengthAdjust="spacingAndGlyphs">Fraction of errors</text>
<polyline points="1000.6,221.6 1001.22,227.69 1001.85,233.13 1002.66,239.21 1004.4,244.08 1008.2,248.61 1012,250.26 1015.8,251.25 1019.6,251.51 1023.4,251.57 1027.2,252.07 1031,252.33 1034.8,252.54 1038.6,252.62 1042.4,252.97 1046.2,253.06 1050,253.36 1053.8,253.37 1057.6,253.12 1061.4,253.04 1065.2,253.28 1069,253.33 1072.8,253.09 1075.6,252.9 1113.9,249.2 1152.5,244.7 1190,235.5" fill="none" stroke="#30608e" stroke-width="2.9" stroke-linejoin="round" stroke-linecap="round"/>
<circle cx="1000.6" cy="221.6" r="2.5" fill="#30608e"/>
<circle cx="1001.22" cy="227.69" r="2.5" fill="#30608e"/>
<circle cx="1001.85" cy="233.13" r="2.5" fill="#30608e"/>
<circle cx="1002.66" cy="239.21" r="2.5" fill="#30608e"/>
<circle cx="1004.4" cy="244.08" r="2.5" fill="#30608e"/>
<circle cx="1008.2" cy="248.61" r="2.5" fill="#30608e"/>
<circle cx="1012" cy="250.26" r="2.5" fill="#30608e"/>
<circle cx="1015.8" cy="251.25" r="2.5" fill="#30608e"/>
<circle cx="1019.6" cy="251.51" r="2.5" fill="#30608e"/>
<circle cx="1023.4" cy="251.57" r="2.5" fill="#30608e"/>
<circle cx="1027.2" cy="252.07" r="2.5" fill="#30608e"/>
<circle cx="1031" cy="252.33" r="2.5" fill="#30608e"/>
<circle cx="1034.8" cy="252.54" r="2.5" fill="#30608e"/>
<circle cx="1038.6" cy="252.62" r="2.5" fill="#30608e"/>
<circle cx="1042.4" cy="252.97" r="2.5" fill="#30608e"/>
<circle cx="1046.2" cy="253.06" r="2.5" fill="#30608e"/>
<circle cx="1050" cy="253.36" r="2.5" fill="#30608e"/>
<circle cx="1053.8" cy="253.37" r="2.5" fill="#30608e"/>
<circle cx="1057.6" cy="253.12" r="2.5" fill="#30608e"/>
<circle cx="1061.4" cy="253.04" r="2.5" fill="#30608e"/>
<circle cx="1065.2" cy="253.28" r="2.5" fill="#30608e"/>
<circle cx="1069" cy="253.33" r="2.5" fill="#30608e"/>
<circle cx="1072.8" cy="253.09" r="2.5" fill="#30608e"/>
<circle cx="1075.6" cy="252.9" r="2.5" fill="#30608e"/>
<circle cx="1113.9" cy="249.2" r="2.7" fill="#30608e"/>
<circle cx="1152.5" cy="244.7" r="2.7" fill="#30608e"/>
<circle cx="1190" cy="235.5" r="2.7" fill="#30608e"/>
<polyline points="1000.6,217 1000.91,223.86 1001.22,230.58 1001.95,236.32 1004.4,243.16 1008.2,247.34 1012,249.53 1015.8,250.91 1019.6,251.46 1023.4,251.36 1027.2,252.13 1031,251.85 1034.8,252.32 1038.6,252.9 1042.4,252.67 1046.2,252.86 1050,252.95 1053.8,252.95 1057.6,252.78 1061.4,251.9 1065.2,252.04 1069,251.81 1072.8,251.18 1075.6,251.4 1113.9,243.8 1152.5,234.9 1190,220.3" fill="none" stroke="#1f8f8a" stroke-width="2.9" stroke-linejoin="round" stroke-linecap="round"/>
<circle cx="1000.6" cy="217" r="2.5" fill="#1f8f8a"/>
<circle cx="1000.91" cy="223.86" r="2.5" fill="#1f8f8a"/>
<circle cx="1001.22" cy="230.58" r="2.5" fill="#1f8f8a"/>
<circle cx="1001.95" cy="236.32" r="2.5" fill="#1f8f8a"/>
<circle cx="1004.4" cy="243.16" r="2.5" fill="#1f8f8a"/>
<circle cx="1008.2" cy="247.34" r="2.5" fill="#1f8f8a"/>
<circle cx="1012" cy="249.53" r="2.5" fill="#1f8f8a"/>
<circle cx="1015.8" cy="250.91" r="2.5" fill="#1f8f8a"/>
<circle cx="1019.6" cy="251.46" r="2.5" fill="#1f8f8a"/>
<circle cx="1023.4" cy="251.36" r="2.5" fill="#1f8f8a"/>
<circle cx="1027.2" cy="252.13" r="2.5" fill="#1f8f8a"/>
<circle cx="1031" cy="251.85" r="2.5" fill="#1f8f8a"/>
<circle cx="1034.8" cy="252.32" r="2.5" fill="#1f8f8a"/>
<circle cx="1038.6" cy="252.9" r="2.5" fill="#1f8f8a"/>
<circle cx="1042.4" cy="252.67" r="2.5" fill="#1f8f8a"/>
<circle cx="1046.2" cy="252.86" r="2.5" fill="#1f8f8a"/>
<circle cx="1050" cy="252.95" r="2.5" fill="#1f8f8a"/>
<circle cx="1053.8" cy="252.95" r="2.5" fill="#1f8f8a"/>
<circle cx="1057.6" cy="252.78" r="2.5" fill="#1f8f8a"/>
<circle cx="1061.4" cy="251.9" r="2.5" fill="#1f8f8a"/>
<circle cx="1065.2" cy="252.04" r="2.5" fill="#1f8f8a"/>
<circle cx="1069" cy="251.81" r="2.5" fill="#1f8f8a"/>
<circle cx="1072.8" cy="251.18" r="2.5" fill="#1f8f8a"/>
<circle cx="1075.6" cy="251.4" r="2.5" fill="#1f8f8a"/>
<circle cx="1113.9" cy="243.8" r="2.7" fill="#1f8f8a"/>
<circle cx="1152.5" cy="234.9" r="2.7" fill="#1f8f8a"/>
<circle cx="1190" cy="220.3" r="2.7" fill="#1f8f8a"/>
<polyline points="1000.6,205.2 1002.17,211.61 1004.4,217.82 1008.2,222.32 1012,225.59 1015.8,227.11 1019.6,228.62 1023.4,230.24 1027.2,230.89 1031,231.99 1034.8,233.21 1038.6,233.56 1042.4,234.62 1046.2,234.98 1050,234.35 1053.8,234.74 1057.6,234.8 1061.4,234.57 1065.2,233.39 1069,232.67 1072.8,232.67 1075.6,231.9 1113.9,215.8 1152.5,185.4 1190,138.8" fill="none" stroke="#6acb5c" stroke-width="2.9" stroke-linejoin="round" stroke-linecap="round"/>
<circle cx="1000.6" cy="205.2" r="2.5" fill="#6acb5c"/>
<circle cx="1002.17" cy="211.61" r="2.5" fill="#6acb5c"/>
<circle cx="1004.4" cy="217.82" r="2.5" fill="#6acb5c"/>
<circle cx="1008.2" cy="222.32" r="2.5" fill="#6acb5c"/>
<circle cx="1012" cy="225.59" r="2.5" fill="#6acb5c"/>
<circle cx="1015.8" cy="227.11" r="2.5" fill="#6acb5c"/>
<circle cx="1019.6" cy="228.62" r="2.5" fill="#6acb5c"/>
<circle cx="1023.4" cy="230.24" r="2.5" fill="#6acb5c"/>
<circle cx="1027.2" cy="230.89" r="2.5" fill="#6acb5c"/>
<circle cx="1031" cy="231.99" r="2.5" fill="#6acb5c"/>
<circle cx="1034.8" cy="233.21" r="2.5" fill="#6acb5c"/>
<circle cx="1038.6" cy="233.56" r="2.5" fill="#6acb5c"/>
<circle cx="1042.4" cy="234.62" r="2.5" fill="#6acb5c"/>
<circle cx="1046.2" cy="234.98" r="2.5" fill="#6acb5c"/>
<circle cx="1050" cy="234.35" r="2.5" fill="#6acb5c"/>
<circle cx="1053.8" cy="234.74" r="2.5" fill="#6acb5c"/>
<circle cx="1057.6" cy="234.8" r="2.5" fill="#6acb5c"/>
<circle cx="1061.4" cy="234.57" r="2.5" fill="#6acb5c"/>
<circle cx="1065.2" cy="233.39" r="2.5" fill="#6acb5c"/>
<circle cx="1069" cy="232.67" r="2.5" fill="#6acb5c"/>
<circle cx="1072.8" cy="232.67" r="2.5" fill="#6acb5c"/>
<circle cx="1075.6" cy="231.9" r="2.5" fill="#6acb5c"/>
<circle cx="1113.9" cy="215.8" r="2.7" fill="#6acb5c"/>
<circle cx="1152.5" cy="185.4" r="2.7" fill="#6acb5c"/>
<circle cx="1190" cy="138.8" r="2.7" fill="#6acb5c"/>
<polyline points="1000.6,182.3 1002.17,189.09 1004.4,194.65 1008.2,199 1012,202.44 1015.8,204.93 1019.6,205.77 1023.4,207.44 1027.2,208.68 1031,209.46 1034.8,210.01 1038.6,210.65 1042.4,211.47 1046.2,212.39 1050,211.95 1053.8,211.96 1057.6,212.09 1061.4,211.34 1065.2,210.7 1069,209.76 1072.8,209.38 1075.6,208.8 1113.9,183.8 1152.5,136.7 1190,72.8" fill="none" stroke="#d9e21c" stroke-width="2.9" stroke-linejoin="round" stroke-linecap="round"/>
<circle cx="1000.6" cy="182.3" r="2.5" fill="#d9e21c"/>
<circle cx="1002.17" cy="189.09" r="2.5" fill="#d9e21c"/>
<circle cx="1004.4" cy="194.65" r="2.5" fill="#d9e21c"/>
<circle cx="1008.2" cy="199" r="2.5" fill="#d9e21c"/>
<circle cx="1012" cy="202.44" r="2.5" fill="#d9e21c"/>
<circle cx="1015.8" cy="204.93" r="2.5" fill="#d9e21c"/>
<circle cx="1019.6" cy="205.77" r="2.5" fill="#d9e21c"/>
<circle cx="1023.4" cy="207.44" r="2.5" fill="#d9e21c"/>
<circle cx="1027.2" cy="208.68" r="2.5" fill="#d9e21c"/>
<circle cx="1031" cy="209.46" r="2.5" fill="#d9e21c"/>
<circle cx="1034.8" cy="210.01" r="2.5" fill="#d9e21c"/>
<circle cx="1038.6" cy="210.65" r="2.5" fill="#d9e21c"/>
<circle cx="1042.4" cy="211.47" r="2.5" fill="#d9e21c"/>
<circle cx="1046.2" cy="212.39" r="2.5" fill="#d9e21c"/>
<circle cx="1050" cy="211.95" r="2.5" fill="#d9e21c"/>
<circle cx="1053.8" cy="211.96" r="2.5" fill="#d9e21c"/>
<circle cx="1057.6" cy="212.09" r="2.5" fill="#d9e21c"/>
<circle cx="1061.4" cy="211.34" r="2.5" fill="#d9e21c"/>
<circle cx="1065.2" cy="210.7" r="2.5" fill="#d9e21c"/>
<circle cx="1069" cy="209.76" r="2.5" fill="#d9e21c"/>
<circle cx="1072.8" cy="209.38" r="2.5" fill="#d9e21c"/>
<circle cx="1075.6" cy="208.8" r="2.5" fill="#d9e21c"/>
<circle cx="1113.9" cy="183.8" r="2.7" fill="#d9e21c"/>
<circle cx="1152.5" cy="136.7" r="2.7" fill="#d9e21c"/>
<circle cx="1190" cy="72.8" r="2.7" fill="#d9e21c"/>
<text x="1003.69" y="63.8" fill="#2e5f8a" textLength="47.74" lengthAdjust="spacingAndGlyphs"><tspan font-size="21" font-style="italic">D</tspan><tspan font-size="21"> = 5</tspan></text>
<text x="1003.7" y="87.9" fill="#218a8c" textLength="58.17" lengthAdjust="spacingAndGlyphs"><tspan font-size="21" font-style="italic">D</tspan><tspan font-size="21"> = 10</tspan></text>
<text x="1003.66" y="112.2" fill="#6ccd5a" textLength="61.65" lengthAdjust="spacingAndGlyphs"><tspan font-size="21" font-style="italic">D</tspan><tspan font-size="21"> = 50</tspan></text>
<text x="1003.67" y="136.6" fill="#d2dd1a" textLength="72.43" lengthAdjust="spacingAndGlyphs"><tspan font-size="21" font-style="italic">D</tspan><tspan font-size="21"> = 100</tspan></text>
<line x1="148.3" y1="522" x2="386.5" y2="512.3" stroke="#000" stroke-width="1.4" stroke-linecap="butt"/>
<line x1="121.7" y1="591.5" x2="276" y2="734.2" stroke="#000" stroke-width="1.4" stroke-linecap="butt"/>
<path d="M 57.6 560.6 C 62 560.5 70 563 75.8 566.6 C 80 568.5 83 569.7 86 569.7 C 92 569.7 100 567 106.2 566.6 C 110 566.4 112 566.8 114 567.5" fill="none" stroke="#6f86f2" stroke-width="1.1" stroke-linecap="round" stroke-linejoin="round"/>
<path d="M 62.6 545.3 C 65 548 67 551 68.7 553.5 C 71 557 73 559.5 75.8 561.6 C 79 563.8 82 565 86 565.6 C 92 566.3 98 566.6 101.2 566.6 C 105 566.5 109 566.2 114 566.5" fill="none" stroke="#6f86f2" stroke-width="1.1" stroke-linecap="round" stroke-linejoin="round"/>
<path d="M 87 540.3 C 85.5 544 84.5 547 85 550.4 C 85.5 553.5 86.5 556.5 88 558.5 C 90.5 561 93 562 96.1 562.6 C 100 563.6 104 564.2 106.2 564.6 C 109 565 111.5 565.5 114 566" fill="none" stroke="#6f86f2" stroke-width="1.1" stroke-linecap="round" stroke-linejoin="round"/>
<path d="M 52.5 549.4 C 57 551.5 61 553.5 65.7 554.5 C 69 555.2 72.5 555.5 75.8 555.5 C 80.5 555.5 85.5 555.2 90 555" fill="none" stroke="#aaa" stroke-width="1" stroke-linecap="round" stroke-linejoin="round"/>
<path d="M 101.2 557.5 C 103 557.8 104.5 558 106 558.2" fill="none" stroke="#aaa" stroke-width="1" stroke-linecap="round" stroke-linejoin="round"/>
<path d="M 101.2 536.2 C 101.5 541 101 546 99.5 551" fill="none" stroke="#aaa" stroke-width="0.9" stroke-linecap="round" stroke-linejoin="round"/>
<path d="M 88 540.3 C 89.5 544 91.5 548 93.5 551.5" fill="none" stroke="#aaa" stroke-width="0.9" stroke-linecap="round" stroke-linejoin="round"/>
<path d="M 47.4 558.5 C 46.5 556.5 45.5 555.5 44.4 554.5 C 42.5 552 41 550.6 39.3 550.4 C 37.5 550 36 550 34.3 550.2 C 31.5 551 29 552.5 27.2 554.5 C 25 556.5 22.5 558.5 21.1 560.6 C 20.2 561.8 20 562.8 20.1 563.6 C 20.5 565.5 21.5 567 23.1 568.7 C 25 570.5 27 572.5 29.2 573.7 C 31.5 575 34.5 575.5 37.3 575.8 C 42 576.5 46 577 50.5 577.8 C 53 578.5 55.5 580 57.6 581.8 C 60.5 584 63 586 65.7 587.9 C 67.5 589.3 69.5 590.5 71.8 591 C 75 591.5 78 591.3 80.9 591 C 83.5 590.5 85.5 588 88 586.9 C 90.5 586 93.5 587.5 96.1 587.4 C 98.5 587.2 101 586.7 103.2 585.9 C 105.5 585 107.5 584 109.3 582.9 C 110.5 581.8 111.5 580.3 112.3 578.8" fill="none" stroke="#000" stroke-width="1.1" stroke-linecap="round" stroke-linejoin="round"/>
<path d="M 48.3 560.6 C 47 557 46.6 553 46.8 550 C 47.3 546.5 49 544.3 51 543 C 55 540.8 60 539.3 65.7 538 C 72 536.7 79 535.3 86 533.9 C 93 532.3 100 530.4 106.2 528.9 C 110 528 113.5 527.4 116.4 527.4 C 119 527.4 121.2 528 122.5 528.9" fill="none" stroke="#000" stroke-width="1.1" stroke-linecap="round" stroke-linejoin="round"/>
<path d="M 57.6 563.6 C 54 562.5 51.5 561.5 50.5 560.6 C 49 557 49 554.5 49.5 552.4 C 50.5 549.5 51.5 547.8 53.5 546.4 C 57 544 61 542.8 65.7 541.8 C 72 540.2 79 538.8 86 537.2 C 93 535.4 100 533.5 106.2 532.2 C 110 531.4 113.5 530.8 116.4 530.6 C 118.5 530.6 120.5 531.5 121.4 532.7" fill="none" stroke="#0a23d2" stroke-width="3.3" stroke-linecap="round" stroke-linejoin="round"/>
<path d="M 99.1 551.4 C 105 547 111 543 116.4 540.3 C 118 539 119.5 537.5 120.4 536.2" fill="none" stroke="#000" stroke-width="1.1" stroke-linecap="round" stroke-linejoin="round"/>
<path d="M 100.5 553 C 106 549 112 545 117.5 542 C 119.5 540.5 121 539 122 538" fill="none" stroke="#000" stroke-width="0.9" stroke-linecap="round" stroke-linejoin="round"/>
<ellipse cx="95.8" cy="555.8" rx="5.6" ry="4.6" fill="#000"/>
<path d="M 179.6 569.2 C 186.5 571.6 194.5 574.6 202.4 577.3 L 202.4 594.4 C 195 590 186 584.5 179.6 581.5 C 177 581 174 581.5 171 582" fill="none" stroke="#000" stroke-width="1" stroke-linecap="round" stroke-linejoin="round"/>
<path d="M 175.5 575.3 C 179 576.3 182 577.5 185 579" fill="none" stroke="#000" stroke-width="1" stroke-linecap="round" stroke-linejoin="round"/>
<ellipse cx="192.5" cy="582" rx="8.8" ry="3.4" transform="rotate(14 192.5 582)" fill="#000"/>
<clipPath id="sc"><circle cx="143" cy="559.6" r="37.8"/></clipPath>
<g clip-path="url(#sc)"><g transform="translate(143 559.6) scale(0.27491) translate(-386.5 -650.2)">
<path d="M 293 543 C 304 545 314 550 317 556 C 318 561 313 563 307.7 565.1 C 296 569 283 575 272 585 C 264 592 258 597 250 604" fill="none" stroke="#000" stroke-width="3.48" stroke-linecap="round" stroke-linejoin="round"/>
<path d="M 276 568 L 290.6 550.5 C 300 553 308 556 313 559.8 C 305 563 300 566 296.5 568.5 L 294 566.5 Z" fill="#0a23d2"/>
<path d="M 250 614 C 262 602 276 590 292 581 C 302 576 312 572 318 572 C 321 574 322 578 322.5 581 C 325 576 328 572 334 568 C 340 563.5 346 560.5 350 560.3" fill="none" stroke="#000" stroke-width="3.48" stroke-linecap="round" stroke-linejoin="round"/>
<path d="M 240 647 C 280 656 330 657 377 646.5" fill="none" stroke="#aaaaaa" stroke-width="4.64" stroke-linecap="round" stroke-linejoin="round"/>
<path d="M 272.6 575.6 L 327.5 699" fill="none" stroke="#444" stroke-width="1.01" stroke-linecap="round" stroke-linejoin="round"/>
<path d="M 240 665 C 258 667 272 671 280 673" fill="none" stroke="#6b80f0" stroke-width="3.77" stroke-linecap="round" stroke-linejoin="round"/>
<path d="M 240 672 C 258 673 272 673 282 673" fill="none" stroke="#6b80f0" stroke-width="2.32" stroke-linecap="round" stroke-linejoin="round"/>
<path d="M 240 679 C 258 676 272 674 282 673" fill="none" stroke="#6b80f0" stroke-width="2.32" stroke-linecap="round" stroke-linejoin="round"/>
<path d="M 280 673 C 295 677 305 684 316 693" fill="none" stroke="#6b80f0" stroke-width="4.64" stroke-linecap="round" stroke-linejoin="round"/>
<path d="M 310.5 697.5 L 329.5 689.5 L 328 701 Z" fill="#6b80f0" stroke="#6b80f0" stroke-width="1" stroke-linejoin="round"/>
<path d="M 262 737 C 272 728 282 718 287.5 709 C 288.5 705 288.5 702 289.5 700.5 C 296 700 302 700.5 306.5 701.5 C 309 705 308.5 712 309.5 719 C 313 726 320 729 326 730 C 335 731.5 346 732.5 352 734 C 358 736 360 739.5 366 739.5 C 375 739 385 737 395 735.5 C 420 735 445 735 465 734.6 C 480 733 490 728 530 716" fill="none" stroke="#000" stroke-width="3.48" stroke-linecap="round" stroke-linejoin="round"/>
<path d="M 398.2 656.4 C 399 663 400 668 404 672 C 410 677 425 682 444 685.4 C 460 688 480 694 530 716" fill="none" stroke="#000" stroke-width="4.06" stroke-linecap="round" stroke-linejoin="round"/>
<path d="M 406.8 653.2 C 411 655.5 415 657.5 419.8 659.3 C 424 660.8 428 661.8 431.9 662.4 C 435 663 438 663.4 441.1 663.9 C 444 664.4 446 665.5 448.7 666.2 C 451 666.5 453 666 454.8 665.4 C 458 664 461 662 463.9 660.8 C 467 659.5 470 658.8 473 658.6 C 477 658.5 480 659 483.7 660.1 C 486 661 489 662.5 491.3 663.9 C 496 666 501 668 506.5 670 C 511 672 516 674 530 680" fill="none" stroke="#000" stroke-width="3.48" stroke-linecap="round" stroke-linejoin="round"/>
<path d="M 420.5 631.9 C 425 633 429.5 634.5 433.5 636.5 C 438 639 442 641.5 444.1 644.1 C 446.5 647 447.5 649.5 447.1 651.7 C 447 654.5 446.5 656.5 445.6 658.6 C 444.5 660.5 443 661.7 441.1 662.4" fill="none" stroke="#000" stroke-width="3.33" stroke-linecap="round" stroke-linejoin="round"/>
<path d="M 420.5 631.9 C 424 634 427 636 430.4 638 C 434.5 640.5 438.5 643 442.6 645.6 C 446 648 449.5 650 453.2 651.7 C 456.5 653 460 654 463.9 654 C 465.5 654 467 653.5 468.4 652.5 C 469.5 651 470.8 649.5 471.5 647.9 C 471.8 649.5 472.3 651.5 473 653.2 C 474 655 475 656.5 476 657.8 C 477.5 659.3 479 660.2 480.6 660.8 C 482.5 661.7 484.5 662.3 486.7 662.4 C 489 662.3 491 661.5 492.8 660.1 C 494.5 658 495.5 655.5 495.8 653.2 C 496.2 649.5 496.3 646 495.8 642.6 C 495 639 493.5 636 491.3 633.5 C 488.5 630.8 485.5 628.8 482.1 627.4 C 478.5 626 475 625.3 471.5 625.1 C 466 624.3 460 623.8 454.8 623.6" fill="none" stroke="#000" stroke-width="3.48" stroke-linecap="round" stroke-linejoin="round"/>
<path d="M 453.8 623.7 C 462 623 470 622.5 475 619 C 478 614 476 608 470 604 C 464 601 456 600 450 600.5 C 456 598 460 594 460.5 588 C 460 582 456 578 450 576 C 446 575 442 575 439 575.5 C 441 571 441 566 439 562 C 436 557 430 555 424 555 C 421 555 419 556 418 557" fill="none" stroke="#000" stroke-width="3.48" stroke-linecap="round" stroke-linejoin="round"/>
<path d="M 450 600.5 C 446 604 441 606 437 606 C 433 602 434 594 436 586" fill="none" stroke="#000" stroke-width="3.19" stroke-linecap="round" stroke-linejoin="round"/>
<path d="M 409.1 574.8 C 403 569 397 562 393.2 557.4 C 390 553 388 550 385.6 548.2 C 382 545 376 542.5 370.4 542.9 C 365 543.5 361 548 360.5 553 C 360 558 361 563 365.2 569.4 C 368 573 373 577 378.1 580.1 C 384 583.5 390 587 393.5 591 C 397 595 399 600 399.4 605.6" fill="none" stroke="#000" stroke-width="3.48" stroke-linecap="round" stroke-linejoin="round"/>
<path d="M 385.6 548.2 C 386 545 389 541.5 393.2 540.9 C 397 540.3 402 541 405 543.5 C 410 547.5 414 551 417 555 C 420 558.5 424 564 426.6 568" fill="none" stroke="#000" stroke-width="3.48" stroke-linecap="round" stroke-linejoin="round"/>
<path d="M 350 560.3 C 354 560.5 358 561.8 360.5 563.5 C 363 566 364.2 569 364.1 572.5 C 364 578 363 584 361.4 589.2 C 359 596 356 602 353 608.2 C 351 614 350.8 621 352.5 627 C 354 632 358 636 362.8 638.7" fill="none" stroke="#000" stroke-width="3.48" stroke-linecap="round" stroke-linejoin="round"/>
<path d="M 378.1 580.5 C 373 581 367 583.5 363.5 587 C 361 590 360 593 360.6 596 C 361.5 600 364 602.5 367.5 605 C 371 608 375 612 378.8 618.1" fill="none" stroke="#000" stroke-width="3.48" stroke-linecap="round" stroke-linejoin="round"/>
<path d="M 355.2 612.1 C 358 610.5 361 609.8 364.3 609.8 C 368 610 371 611 373.4 612.8 C 376 614.5 378 616.5 379.5 618.1" fill="none" stroke="#000" stroke-width="3.19" stroke-linecap="round" stroke-linejoin="round"/>
<ellipse cx="394.2" cy="631" rx="22.3" ry="12.6" transform="rotate(-52 394.2 631)" fill="#fff" stroke="#000" stroke-width="3.19"/>
<ellipse cx="425.5" cy="579.4" rx="8" ry="7" fill="#fff" stroke="#000" stroke-width="2.17"/>
<circle cx="455.4" cy="605.2" r="4.1" fill="#1a8a78"/>
<circle cx="464.4" cy="608.6" r="4.1" fill="#1a8a78"/>
<circle cx="472.4" cy="615.8" r="4.1" fill="#1a8a78"/>
<circle cx="462.4" cy="618.2" r="4.1" fill="#1a8a78"/>
<line x1="339.5" y1="701.4" x2="384.83" y2="659.45" stroke="#000" stroke-width="4.35"/>
<polygon points="391.8,653 387.8,664.87 379.65,656.07" fill="#000"/>
<line x1="423" y1="587.8" x2="413.99" y2="605.23" stroke="#000" stroke-width="3.77"/>
<polygon points="411,611 410.23,601.6 419.12,606.19" fill="#000"/>
<path d="M 400.8 648.7 C 403 644 406 640 409.1 636.5 C 411.5 633 414 629 416.7 625.9 C 419.5 623 422.5 621.5 425.9 620.5 C 430 619 434 617.8 441 615.9" fill="none" stroke="#000" stroke-width="4.35" stroke-linecap="round" stroke-linejoin="round"/>
<polygon points="450,611.5 442.43,620.04 438.73,609.68" fill="#000"/>
<path d="M 441 597 C 438 592 436.5 588 436 586" fill="none" stroke="#000" stroke-width="3.19" stroke-linecap="round" stroke-linejoin="round"/>
<polygon points="435.8,584 440.96,589.04 433.13,590.7" fill="#000"/>
<path d="M 352.7 651.3 C 343 654 336 660 334 668 C 333 672 333 676 333 680" fill="none" stroke="#e8141c" stroke-width="3.77" stroke-linecap="round" stroke-linejoin="round" stroke-dasharray="6,4"/>
<polygon points="329.3,679.5 337.5,679.5 333.2,690" fill="#e8141c"/>
<circle cx="327.7" cy="712.4" r="12.3" fill="#fd8437"/>
</g></g>
<circle cx="143" cy="559.6" r="37.8" fill="none" stroke="#000" stroke-width="1.3"/>
<clipPath id="bc"><circle cx="386.5" cy="650.2" r="137.5"/></clipPath>
<g clip-path="url(#bc)">
<path d="M 293 543 C 304 545 314 550 317 556 C 318 561 313 563 307.7 565.1 C 296 569 283 575 272 585 C 264 592 258 597 250 604" fill="none" stroke="#000" stroke-width="2.4" stroke-linecap="round" stroke-linejoin="round"/>
<path d="M 276 568 L 290.6 550.5 C 300 553 308 556 313 559.8 C 305 563 300 566 296.5 568.5 L 294 566.5 Z" fill="#0a23d2"/>
<path d="M 250 614 C 262 602 276 590 292 581 C 302 576 312 572 318 572 C 321 574 322 578 322.5 581 C 325 576 328 572 334 568 C 340 563.5 346 560.5 350 560.3" fill="none" stroke="#000" stroke-width="2.4" stroke-linecap="round" stroke-linejoin="round"/>
<path d="M 240 647 C 280 656 330 657 377 646.5" fill="none" stroke="#aaaaaa" stroke-width="3.2" stroke-linecap="round" stroke-linejoin="round"/>
<path d="M 272.6 575.6 L 327.5 699" fill="none" stroke="#444" stroke-width="0.7" stroke-linecap="round" stroke-linejoin="round"/>
<path d="M 240 665 C 258 667 272 671 280 673" fill="none" stroke="#6b80f0" stroke-width="2.6" stroke-linecap="round" stroke-linejoin="round"/>
<path d="M 240 672 C 258 673 272 673 282 673" fill="none" stroke="#6b80f0" stroke-width="1.6" stroke-linecap="round" stroke-linejoin="round"/>
<path d="M 240 679 C 258 676 272 674 282 673" fill="none" stroke="#6b80f0" stroke-width="1.6" stroke-linecap="round" stroke-linejoin="round"/>
<path d="M 280 673 C 295 677 305 684 316 693" fill="none" stroke="#6b80f0" stroke-width="3.2" stroke-linecap="round" stroke-linejoin="round"/>
<path d="M 310.5 697.5 L 329.5 689.5 L 328 701 Z" fill="#6b80f0" stroke="#6b80f0" stroke-width="1" stroke-linejoin="round"/>
<path d="M 262 737 C 272 728 282 718 287.5 709 C 288.5 705 288.5 702 289.5 700.5 C 296 700 302 700.5 306.5 701.5 C 309 705 308.5 712 309.5 719 C 313 726 320 729 326 730 C 335 731.5 346 732.5 352 734 C 358 736 360 739.5 366 739.5 C 375 739 385 737 395 735.5 C 420 735 445 735 465 734.6 C 480 733 490 728 530 716" fill="none" stroke="#000" stroke-width="2.4" stroke-linecap="round" stroke-linejoin="round"/>
<path d="M 398.2 656.4 C 399 663 400 668 404 672 C 410 677 425 682 444 685.4 C 460 688 480 694 530 716" fill="none" stroke="#000" stroke-width="2.8" stroke-linecap="round" stroke-linejoin="round"/>
<path d="M 406.8 653.2 C 411 655.5 415 657.5 419.8 659.3 C 424 660.8 428 661.8 431.9 662.4 C 435 663 438 663.4 441.1 663.9 C 444 664.4 446 665.5 448.7 666.2 C 451 666.5 453 666 454.8 665.4 C 458 664 461 662 463.9 660.8 C 467 659.5 470 658.8 473 658.6 C 477 658.5 480 659 483.7 660.1 C 486 661 489 662.5 491.3 663.9 C 496 666 501 668 506.5 670 C 511 672 516 674 530 680" fill="none" stroke="#000" stroke-width="2.4" stroke-linecap="round" stroke-linejoin="round"/>
<path d="M 420.5 631.9 C 425 633 429.5 634.5 433.5 636.5 C 438 639 442 641.5 444.1 644.1 C 446.5 647 447.5 649.5 447.1 651.7 C 447 654.5 446.5 656.5 445.6 658.6 C 444.5 660.5 443 661.7 441.1 662.4" fill="none" stroke="#000" stroke-width="2.3" stroke-linecap="round" stroke-linejoin="round"/>
<path d="M 420.5 631.9 C 424 634 427 636 430.4 638 C 434.5 640.5 438.5 643 442.6 645.6 C 446 648 449.5 650 453.2 651.7 C 456.5 653 460 654 463.9 654 C 465.5 654 467 653.5 468.4 652.5 C 469.5 651 470.8 649.5 471.5 647.9 C 471.8 649.5 472.3 651.5 473 653.2 C 474 655 475 656.5 476 657.8 C 477.5 659.3 479 660.2 480.6 660.8 C 482.5 661.7 484.5 662.3 486.7 662.4 C 489 662.3 491 661.5 492.8 660.1 C 494.5 658 495.5 655.5 495.8 653.2 C 496.2 649.5 496.3 646 495.8 642.6 C 495 639 493.5 636 491.3 633.5 C 488.5 630.8 485.5 628.8 482.1 627.4 C 478.5 626 475 625.3 471.5 625.1 C 466 624.3 460 623.8 454.8 623.6" fill="none" stroke="#000" stroke-width="2.4" stroke-linecap="round" stroke-linejoin="round"/>
<path d="M 453.8 623.7 C 462 623 470 622.5 475 619 C 478 614 476 608 470 604 C 464 601 456 600 450 600.5 C 456 598 460 594 460.5 588 C 460 582 456 578 450 576 C 446 575 442 575 439 575.5 C 441 571 441 566 439 562 C 436 557 430 555 424 555 C 421 555 419 556 418 557" fill="none" stroke="#000" stroke-width="2.4" stroke-linecap="round" stroke-linejoin="round"/>
<path d="M 450 600.5 C 446 604 441 606 437 606 C 433 602 434 594 436 586" fill="none" stroke="#000" stroke-width="2.2" stroke-linecap="round" stroke-linejoin="round"/>
<path d="M 409.1 574.8 C 403 569 397 562 393.2 557.4 C 390 553 388 550 385.6 548.2 C 382 545 376 542.5 370.4 542.9 C 365 543.5 361 548 360.5 553 C 360 558 361 563 365.2 569.4 C 368 573 373 577 378.1 580.1 C 384 583.5 390 587 393.5 591 C 397 595 399 600 399.4 605.6" fill="none" stroke="#000" stroke-width="2.4" stroke-linecap="round" stroke-linejoin="round"/>
<path d="M 385.6 548.2 C 386 545 389 541.5 393.2 540.9 C 397 540.3 402 541 405 543.5 C 410 547.5 414 551 417 555 C 420 558.5 424 564 426.6 568" fill="none" stroke="#000" stroke-width="2.4" stroke-linecap="round" stroke-linejoin="round"/>
<path d="M 350 560.3 C 354 560.5 358 561.8 360.5 563.5 C 363 566 364.2 569 364.1 572.5 C 364 578 363 584 361.4 589.2 C 359 596 356 602 353 608.2 C 351 614 350.8 621 352.5 627 C 354 632 358 636 362.8 638.7" fill="none" stroke="#000" stroke-width="2.4" stroke-linecap="round" stroke-linejoin="round"/>
<path d="M 378.1 580.5 C 373 581 367 583.5 363.5 587 C 361 590 360 593 360.6 596 C 361.5 600 364 602.5 367.5 605 C 371 608 375 612 378.8 618.1" fill="none" stroke="#000" stroke-width="2.4" stroke-linecap="round" stroke-linejoin="round"/>
<path d="M 355.2 612.1 C 358 610.5 361 609.8 364.3 609.8 C 368 610 371 611 373.4 612.8 C 376 614.5 378 616.5 379.5 618.1" fill="none" stroke="#000" stroke-width="2.2" stroke-linecap="round" stroke-linejoin="round"/>
<ellipse cx="394.2" cy="631" rx="22.3" ry="12.6" transform="rotate(-52 394.2 631)" fill="#fff" stroke="#000" stroke-width="2.2"/>
<text x="394.2" y="636.4" font-size="15" fill="#111" text-anchor="middle" transform="rotate(-52 394.2 631)" textLength="32" lengthAdjust="spacingAndGlyphs">DCN</text>
<ellipse cx="425.5" cy="579.4" rx="8" ry="7" fill="#fff" stroke="#000" stroke-width="1.5"/>
<text x="422.98" y="552.9" font-size="15.8" fill="#1a1a1a" textLength="30.33" lengthAdjust="spacingAndGlyphs">PkC</text>
<text x="469.16" y="601.5" font-size="16.2" fill="#1a8a78" textLength="30.47" lengthAdjust="spacingAndGlyphs">GrC</text>
<circle cx="455.4" cy="605.2" r="4.1" fill="#1a8a78"/>
<circle cx="464.4" cy="608.6" r="4.1" fill="#1a8a78"/>
<circle cx="472.4" cy="615.8" r="4.1" fill="#1a8a78"/>
<circle cx="462.4" cy="618.2" r="4.1" fill="#1a8a78"/>
<line x1="339.5" y1="701.4" x2="384.83" y2="659.45" stroke="#000" stroke-width="3"/>
<polygon points="391.8,653 387.8,664.87 379.65,656.07" fill="#000"/>
<line x1="423" y1="587.8" x2="413.99" y2="605.23" stroke="#000" stroke-width="2.6"/>
<polygon points="411,611 410.23,601.6 419.12,606.19" fill="#000"/>
<path d="M 400.8 648.7 C 403 644 406 640 409.1 636.5 C 411.5 633 414 629 416.7 625.9 C 419.5 623 422.5 621.5 425.9 620.5 C 430 619 434 617.8 441 615.9" fill="none" stroke="#000" stroke-width="3" stroke-linecap="round" stroke-linejoin="round"/>
<polygon points="450,611.5 442.43,620.04 438.73,609.68" fill="#000"/>
<path d="M 441 597 C 438 592 436.5 588 436 586" fill="none" stroke="#000" stroke-width="2.2" stroke-linecap="round" stroke-linejoin="round"/>
<polygon points="435.8,584 440.96,589.04 433.13,590.7" fill="#000"/>
<path d="M 352.7 651.3 C 343 654 336 660 334 668 C 333 672 333 676 333 680" fill="none" stroke="#e8141c" stroke-width="2.6" stroke-linecap="round" stroke-linejoin="round" stroke-dasharray="6,4"/>
<polygon points="329.3,679.5 337.5,679.5 333.2,690" fill="#e8141c"/>
<circle cx="327.7" cy="712.4" r="12.3" fill="#fd8437"/>
<text x="343.77" y="721.2" font-size="15.2" fill="#fd8437" textLength="22.56" lengthAdjust="spacingAndGlyphs">PN</text>
</g>
<circle cx="386.5" cy="650.2" r="137.5" fill="none" stroke="#000" stroke-width="3"/>
<text x="692.61" y="488.6" font-size="21.5" fill="#1e1e1e" textLength="110.51" lengthAdjust="spacingAndGlyphs">Regression</text>
<line x1="643.8" y1="508.6" x2="643.8" y2="716.8" stroke="#7a7a7a" stroke-width="1.3" stroke-linecap="butt"/>
<line x1="634" y1="716.3" x2="852" y2="716.3" stroke="#7a7a7a" stroke-width="1.3" stroke-linecap="butt"/>
<line x1="633.7" y1="529.3" x2="643.8" y2="529.3" stroke="#444444" stroke-width="1.3" stroke-linecap="butt"/>
<text x="597.92" y="535.2" font-size="19" fill="#1e1e1e" textLength="27.87" lengthAdjust="spacingAndGlyphs">0.4</text>
<line x1="633.7" y1="622.4" x2="643.8" y2="622.4" stroke="#444444" stroke-width="1.3" stroke-linecap="butt"/>
<text x="599.04" y="628.3" font-size="19" fill="#1e1e1e" textLength="27.14" lengthAdjust="spacingAndGlyphs">0.2</text>
<line x1="633.7" y1="716.3" x2="643.8" y2="716.3" stroke="#444444" stroke-width="1.3" stroke-linecap="butt"/>
<text x="613.73" y="722.2" font-size="19" fill="#1e1e1e" textLength="12.33" lengthAdjust="spacingAndGlyphs">0</text>
<line x1="653.3" y1="716.3" x2="653.3" y2="726.5" stroke="#444444" stroke-width="1.3" stroke-linecap="butt"/>
<text x="647.15" y="748.2" font-size="19" fill="#1e1e1e" textLength="12.1" lengthAdjust="spacingAndGlyphs">0</text>
<line x1="758.3" y1="716.3" x2="758.3" y2="726.5" stroke="#444444" stroke-width="1.3" stroke-linecap="butt"/>
<text x="754.49" y="748.2" font-size="19" fill="#1e1e1e" textLength="7.35" lengthAdjust="spacingAndGlyphs">1</text>
<text x="741.34" y="774.4" font-size="21" fill="#1e1e1e" font-style="italic" textLength="12.04" lengthAdjust="spacingAndGlyphs">σ</text>
<text x="-1.63" y="0" transform="translate(579.9 632.5) rotate(-90)" font-size="21.7" fill="#1e1e1e" textLength="42.98" lengthAdjust="spacingAndGlyphs">MSE</text>
<polygon points="653.3,695.6 674.3,687.4 695.3,685.1 716.3,681.6 737.3,681.6 758.3,671.5 779.3,655.8 800.3,632 821.3,616 842.3,597.4 842.3,611.4 821.3,630 800.3,645 779.3,667.8 758.3,682.5 737.3,691.6 716.3,691.6 695.3,695.1 674.3,697.4 653.3,705.6" fill="#90a3ee" fill-opacity="0.3" stroke="none"/>
<polygon points="653.3,697.6 674.3,689.4 695.3,687.1 716.3,683.6 737.3,683.6 758.3,673.5 779.3,657.8 800.3,634.5 821.3,618.5 842.3,599.9 842.3,608.9 821.3,627.5 800.3,642.5 779.3,665.8 758.3,680.5 737.3,689.6 716.3,689.6 695.3,693.1 674.3,695.4 653.3,703.6" fill="#90a3ee" fill-opacity="0.3" stroke="none"/>
<polygon points="653.3,680.4 674.3,680.4 695.3,678.1 716.3,672.8 737.3,670.9 758.3,660.2 779.3,615.4 800.3,563.4 821.3,537.1 842.3,520.7 842.3,544.7 821.3,555.1 800.3,579.4 779.3,628.4 758.3,672.2 737.3,681.9 716.3,682.8 695.3,688.1 674.3,690.4 653.3,690.4" fill="#90a3ee" fill-opacity="0.3" stroke="none"/>
<polygon points="653.3,682.4 674.3,682.4 695.3,680.1 716.3,674.8 737.3,672.9 758.3,662.2 779.3,617.4 800.3,566.4 821.3,540.1 842.3,524.7 842.3,540.7 821.3,552.1 800.3,576.4 779.3,626.4 758.3,670.2 737.3,679.9 716.3,680.8 695.3,686.1 674.3,688.4 653.3,688.4" fill="#90a3ee" fill-opacity="0.3" stroke="none"/>
<polygon points="653.3,705.4 674.3,694.1 695.3,678.1 716.3,658.6 737.3,631.4 758.3,595.2 779.3,580.6 800.3,566.9 821.3,541.6 842.3,526.2 842.3,557.2 821.3,561.6 800.3,577.9 779.3,609.6 758.3,635.2 737.3,651.4 716.3,672.6 695.3,688.1 674.3,700.1 653.3,707.4" fill="#e87a88" fill-opacity="0.28" stroke="none"/>
<polygon points="653.3,705.9 674.3,695.1 695.3,679.6 716.3,660.6 737.3,634.4 758.3,601.2 779.3,585.6 800.3,568.9 821.3,544.6 842.3,531.2 842.3,551.2 821.3,557.6 800.3,576.4 779.3,604.6 758.3,629.2 737.3,648.4 716.3,670.6 695.3,686.6 674.3,699.1 653.3,706.9" fill="#e87a88" fill-opacity="0.25" stroke="none"/>
<polygon points="653.3,704.7 674.3,705.6 695.3,705.5 716.3,705.6 737.3,705.5 758.3,704.9 779.3,705.6 800.3,705.6 821.3,705.2 842.3,705.5 842.3,711.5 821.3,711.2 800.3,709.6 779.3,709.6 758.3,709.9 737.3,709.5 716.3,709.6 695.3,709.5 674.3,709.6 653.3,709.7" fill="#5e9a4a" fill-opacity="0.3" stroke="none"/>
<polyline points="653.3,700.6 674.3,692.4 695.3,690.1 716.3,686.6 737.3,686.6 758.3,677 779.3,661.8 800.3,638.5 821.3,623 842.3,604.4" fill="none" stroke="#6c86e6" stroke-width="3.2" stroke-linejoin="round" stroke-linecap="round"/>
<circle cx="653.3" cy="700.6" r="3.2" fill="#6c86e6"/>
<circle cx="674.3" cy="692.4" r="3.2" fill="#6c86e6"/>
<circle cx="695.3" cy="690.1" r="3.2" fill="#6c86e6"/>
<circle cx="716.3" cy="686.6" r="3.2" fill="#6c86e6"/>
<circle cx="737.3" cy="686.6" r="3.2" fill="#6c86e6"/>
<circle cx="758.3" cy="677" r="3.2" fill="#6c86e6"/>
<circle cx="779.3" cy="661.8" r="3.2" fill="#6c86e6"/>
<circle cx="800.3" cy="638.5" r="3.2" fill="#6c86e6"/>
<circle cx="821.3" cy="623" r="3.2" fill="#6c86e6"/>
<circle cx="842.3" cy="604.4" r="3.2" fill="#6c86e6"/>
<polyline points="653.3,685.4 674.3,685.4 695.3,683.1 716.3,677.8 737.3,676.4 758.3,666.2 779.3,621.9 800.3,571.4 821.3,546.1 842.3,532.7" fill="none" stroke="#0e1a6e" stroke-width="3.2" stroke-linejoin="round" stroke-linecap="round"/>
<circle cx="653.3" cy="685.4" r="3.2" fill="#0e1a6e"/>
<circle cx="674.3" cy="685.4" r="3.2" fill="#0e1a6e"/>
<circle cx="695.3" cy="683.1" r="3.2" fill="#0e1a6e"/>
<circle cx="716.3" cy="677.8" r="3.2" fill="#0e1a6e"/>
<circle cx="737.3" cy="676.4" r="3.2" fill="#0e1a6e"/>
<circle cx="758.3" cy="666.2" r="3.2" fill="#0e1a6e"/>
<circle cx="779.3" cy="621.9" r="3.2" fill="#0e1a6e"/>
<circle cx="800.3" cy="571.4" r="3.2" fill="#0e1a6e"/>
<circle cx="821.3" cy="546.1" r="3.2" fill="#0e1a6e"/>
<circle cx="842.3" cy="532.7" r="3.2" fill="#0e1a6e"/>
<polyline points="653.3,706.4 674.3,697.1 695.3,683.1 716.3,665.6 737.3,641.4 758.3,615.2 779.3,595.6 800.3,572.9 821.3,549.6 842.3,540.2" fill="none" stroke="#dc2443" stroke-width="3.2" stroke-linejoin="round" stroke-linecap="round"/>
<circle cx="653.3" cy="706.4" r="3.2" fill="#dc2443"/>
<circle cx="674.3" cy="697.1" r="3.2" fill="#dc2443"/>
<circle cx="695.3" cy="683.1" r="3.2" fill="#dc2443"/>
<circle cx="716.3" cy="665.6" r="3.2" fill="#dc2443"/>
<circle cx="737.3" cy="641.4" r="3.2" fill="#dc2443"/>
<circle cx="758.3" cy="615.2" r="3.2" fill="#dc2443"/>
<circle cx="779.3" cy="595.6" r="3.2" fill="#dc2443"/>
<circle cx="800.3" cy="572.9" r="3.2" fill="#dc2443"/>
<circle cx="821.3" cy="549.6" r="3.2" fill="#dc2443"/>
<circle cx="842.3" cy="540.2" r="3.2" fill="#dc2443"/>
<polyline points="653.3,707.2 674.3,707.6 695.3,707.5 716.3,707.6 737.3,707.5 758.3,707.4 779.3,707.6 800.3,707.6 821.3,708.2 842.3,708.5" fill="none" stroke="#3c7a26" stroke-width="3.4" stroke-linejoin="round" stroke-linecap="round"/>
<circle cx="653.3" cy="707.2" r="3.2" fill="#3c7a26"/>
<circle cx="674.3" cy="707.6" r="3.2" fill="#3c7a26"/>
<circle cx="695.3" cy="707.5" r="3.2" fill="#3c7a26"/>
<circle cx="716.3" cy="707.6" r="3.2" fill="#3c7a26"/>
<circle cx="737.3" cy="707.5" r="3.2" fill="#3c7a26"/>
<circle cx="758.3" cy="707.4" r="3.2" fill="#3c7a26"/>
<circle cx="779.3" cy="707.6" r="3.2" fill="#3c7a26"/>
<circle cx="800.3" cy="707.6" r="3.2" fill="#3c7a26"/>
<circle cx="821.3" cy="708.2" r="3.2" fill="#3c7a26"/>
<circle cx="842.3" cy="708.5" r="3.2" fill="#3c7a26"/>
<polygon points="701.4,722 708,733 701.4,744 694.8,733" fill="#f8a87a"/>
<polygon points="802.72,722.83 806.29,729.54 813.88,729.8 808.61,735.27 810.7,742.58 803.87,739.25 797.56,743.5 798.62,735.97 792.63,731.29 800.12,729.97" fill="#96f756"/>
<line x1="677.8" y1="560" x2="678.3" y2="591" stroke="#111" stroke-width="1.1" stroke-linecap="butt"/>
<rect x="668.38" y="564.1" width="64.24" height="26.8" rx="13.4" ry="13.4" fill="#fff" stroke="#111" stroke-width="1.4" transform="rotate(124.11 700.5 577.5)"/>
<rect x="652.85" y="528.7" width="58.3" height="25.6" rx="12.8" ry="12.8" fill="#fff" stroke="#111" stroke-width="1.4" transform="rotate(66.57 682 541.5)"/>
<rect x="668.01" y="537.1" width="60.07" height="25.6" rx="12.8" ry="12.8" fill="#fff" stroke="#111" stroke-width="1.4" transform="rotate(42.3 698.05 549.9)"/>
<circle cx="711" cy="562.3" r="3.5" fill="#000"/>
<path d="M 705.09 563.34 A 6 6 0 1 0 716.56 560.05" fill="none" stroke="#000" stroke-width="1.2"/>
<polygon points="715.36,557.09 718.88,559.65 714.62,561.38" fill="#000"/>
<circle cx="690.2" cy="594.5" r="3.5" fill="#000"/>
<path d="M 684.29 595.54 A 6 6 0 1 0 695.76 592.25" fill="none" stroke="#000" stroke-width="1.2"/>
<polygon points="694.56,589.29 698.08,591.85 693.82,593.58" fill="#000"/>
<text x="933.67" y="459.8" font-size="20.5" fill="#d9243f" textLength="216.57" lengthAdjust="spacingAndGlyphs">Random compression</text>
<text x="933.65" y="492.4" font-size="20.5" fill="#16246e" textLength="217.81" lengthAdjust="spacingAndGlyphs">Hebbian compression</text>
<text x="933.11" y="516.6" font-size="20.5" fill="#16246e" textLength="238.79" lengthAdjust="spacingAndGlyphs">(without DCN feedback)</text>
<text x="933.65" y="548.9" font-size="20.5" fill="#7b90e6" textLength="217.81" lengthAdjust="spacingAndGlyphs">Hebbian compression</text>
<text x="933.12" y="572.6" font-size="20.5" fill="#7b90e6" textLength="205.26" lengthAdjust="spacingAndGlyphs">(with DCN feedback)</text>
<text x="934.22" y="602.3" font-size="20.5" fill="#3a7a22" textLength="213.25" lengthAdjust="spacingAndGlyphs">Optimal compression</text>
<line x1="923.75" y1="628.75" x2="923.75" y2="716.8" stroke="#444" stroke-width="1.3" stroke-linecap="butt"/>
<line x1="923.75" y1="716.25" x2="1012.25" y2="716.25" stroke="#444" stroke-width="1.3" stroke-linecap="butt"/>
<line x1="923.75" y1="659.5" x2="1012.25" y2="659.5" stroke="#222" stroke-width="1.5" stroke-linecap="butt" stroke-dasharray="10,6"/>
<line x1="1075.5" y1="628.75" x2="1075.5" y2="716.8" stroke="#444" stroke-width="1.3" stroke-linecap="butt"/>
<line x1="1075.5" y1="716.25" x2="1164" y2="716.25" stroke="#444" stroke-width="1.3" stroke-linecap="butt"/>
<line x1="1075.5" y1="659.5" x2="1164" y2="659.5" stroke="#222" stroke-width="1.5" stroke-linecap="butt" stroke-dasharray="10,6"/>
<polyline points="925.75,687 937,696.25 938.54,696.82 939.97,697.39 941.35,697.97 942.75,698.55 944.25,699.12 945.91,699.68 947.8,700.22 950,700.75 952.49,701.26 955.18,701.77 958.08,702.27 961.16,702.75 964.4,703.22 967.8,703.67 971.34,704.1 975,704.5 978.86,704.87 982.96,705.21 987.24,705.53 991.66,705.83 996.15,706.12 1000.65,706.4 1005.12,706.7 1009.5,707" fill="none" stroke="#c35ad6" stroke-width="4.2" stroke-linejoin="round" stroke-linecap="round"/>
<polyline points="1078.75,630 1089,655 1090.35,656.75 1091.66,658.55 1092.95,660.38 1094.25,662.19 1095.58,663.96 1096.97,665.66 1098.43,667.27 1100,668.75 1101.63,670.1 1103.29,671.34 1105,672.49 1106.78,673.56 1108.65,674.58 1110.63,675.57 1112.74,676.54 1115,677.5 1117.45,678.45 1120.07,679.37 1122.83,680.25 1125.7,681.11 1128.64,681.93 1131.61,682.73 1134.58,683.5 1137.5,684.25 1140.41,684.96 1143.35,685.62 1146.31,686.25 1149.3,686.86 1152.29,687.45 1155.28,688.04 1158.27,688.64 1161.25,689.25" fill="none" stroke="#c35ad6" stroke-width="4.2" stroke-linejoin="round" stroke-linecap="round"/>
<polygon points="969.25,619.5 976,630.75 969.25,642 962.5,630.75" fill="#f8aa7c"/>
<polygon points="1121.28,617.83 1125.04,624.9 1133.04,625.18 1127.48,630.94 1129.68,638.64 1122.49,635.13 1115.85,639.61 1116.96,631.68 1110.65,626.75 1118.54,625.35" fill="#9afa52"/>
<text x="969.01" y="748.3" font-size="20.5" fill="#a8479f" textLength="144.15" lengthAdjust="spacingAndGlyphs">Task-irrelevant</text>
<text x="982.76" y="772.5" font-size="20.5" fill="#a8479f" textLength="114.91" lengthAdjust="spacingAndGlyphs">component</text>
</svg></body></html>
